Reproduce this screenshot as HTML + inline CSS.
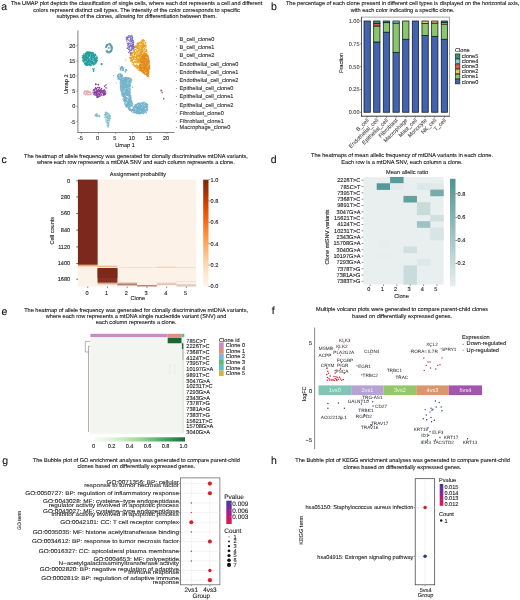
<!DOCTYPE html>
<html><head><meta charset="utf-8"><style>
html,body{margin:0;padding:0;background:#fff;}
svg{display:block;will-change:transform;}
text{font-family:"Liberation Sans", sans-serif;text-rendering:geometricPrecision;}
</style></head><body>
<svg width="520" height="600" viewBox="0 0 520 600">
<g>
<rect width="520" height="600" fill="#fff"/>
<text stroke="#111" stroke-width="0.1" x="1.30" y="9.80" font-size="10.5" fill="#111">a</text>
<text stroke="#111" stroke-width="0.1" x="271.00" y="9.60" font-size="10.5" fill="#111">b</text>
<text stroke="#111" stroke-width="0.1" x="1.50" y="162.60" font-size="10.5" fill="#111">c</text>
<text stroke="#111" stroke-width="0.1" x="270.80" y="163.00" font-size="10.5" fill="#111">d</text>
<text stroke="#111" stroke-width="0.1" x="1.60" y="315.00" font-size="10.5" fill="#111">e</text>
<text stroke="#111" stroke-width="0.1" x="271.80" y="314.00" font-size="10.5" fill="#111">f</text>
<text stroke="#111" stroke-width="0.1" x="2.20" y="463.60" font-size="10.5" fill="#111">g</text>
<text stroke="#111" stroke-width="0.1" x="271.00" y="464.30" font-size="10.5" fill="#111">h</text>
<text stroke="#151515" stroke-width="0.1" x="136.60" y="4.90" font-size="5.6" text-anchor="middle" fill="#151515">The UMAP plot depicts the classification of single cells, where each dot represents a cell and different</text>
<text stroke="#151515" stroke-width="0.1" x="136.60" y="11.60" font-size="5.6" text-anchor="middle" fill="#151515">colors represent distinct cell types. The intensity of the color corresponds to specific</text>
<text stroke="#151515" stroke-width="0.1" x="136.60" y="18.30" font-size="5.6" text-anchor="middle" fill="#151515">subtypes of the clones, allowing for differentiation between them.</text>
<text stroke="#151515" stroke-width="0.1" x="402.60" y="4.90" font-size="5.6" text-anchor="middle" fill="#151515">The percentage of each clone present in different cell types is displayed on the horizontal axis,</text>
<text stroke="#151515" stroke-width="0.1" x="402.60" y="11.90" font-size="5.6" text-anchor="middle" fill="#151515">with each color indicating a specific clone.</text>
<text stroke="#151515" stroke-width="0.1" x="135.90" y="157.60" font-size="5.6" text-anchor="middle" fill="#151515">The heatmap of allele frequency was generated for clonally discriminative mtDNA variants,</text>
<text stroke="#151515" stroke-width="0.1" x="135.90" y="163.90" font-size="5.6" text-anchor="middle" fill="#151515">where each row represents a mtDNA SNV and each column represents a clone.</text>
<text stroke="#151515" stroke-width="0.1" x="402.00" y="157.10" font-size="5.6" text-anchor="middle" fill="#151515">The heatmaps of mean allelic frequency of mtDNA variants in each clone.</text>
<text stroke="#151515" stroke-width="0.1" x="402.00" y="163.70" font-size="5.6" text-anchor="middle" fill="#151515">Each row is a mtDNA SNV, each column a clone.</text>
<text stroke="#151515" stroke-width="0.1" x="136.10" y="311.50" font-size="5.6" text-anchor="middle" fill="#151515">The heatmap of allele frequency was generated for clonally discriminative mtDNA variants,</text>
<text stroke="#151515" stroke-width="0.1" x="136.10" y="317.90" font-size="5.6" text-anchor="middle" fill="#151515">where each row represents a mtDNA single nucleotide variant (SNV) and</text>
<text stroke="#151515" stroke-width="0.1" x="136.10" y="324.30" font-size="5.6" text-anchor="middle" fill="#151515">each column represents a clone.</text>
<text stroke="#151515" stroke-width="0.1" x="402.10" y="311.00" font-size="5.6" text-anchor="middle" fill="#151515">Multiple volcano plots were generated to compare parent-child clones</text>
<text stroke="#151515" stroke-width="0.1" x="402.10" y="318.10" font-size="5.6" text-anchor="middle" fill="#151515">based on differentially expressed genes.</text>
<text stroke="#151515" stroke-width="0.1" x="136.30" y="462.10" font-size="5.6" text-anchor="middle" fill="#151515">The Bubble plot of GO enrichment analyses was generated to compare parent-child</text>
<text stroke="#151515" stroke-width="0.1" x="136.30" y="468.45" font-size="5.6" text-anchor="middle" fill="#151515">clones based on differentially expressed genes.</text>
<text stroke="#151515" stroke-width="0.1" x="402.50" y="462.30" font-size="5.6" text-anchor="middle" fill="#151515">The Bubble plot of KEGG enrichment analyses was generated to compare parent-child</text>
<text stroke="#151515" stroke-width="0.1" x="402.50" y="468.60" font-size="5.6" text-anchor="middle" fill="#151515">clones based on differentially expressed genes.</text>
<line x1="77.90" y1="30.50" x2="77.90" y2="132.80" stroke="#4a4a4a" stroke-width="0.7"/>
<line x1="77.60" y1="132.50" x2="174.60" y2="132.50" stroke="#4a4a4a" stroke-width="0.7"/>
<line x1="76.40" y1="45.60" x2="77.90" y2="45.60" stroke="#4a4a4a" stroke-width="0.5"/>
<text stroke="#222222" stroke-width="0.1" x="75.40" y="47.55" font-size="5.6" text-anchor="end" fill="#222222">20</text>
<line x1="76.40" y1="60.80" x2="77.90" y2="60.80" stroke="#4a4a4a" stroke-width="0.5"/>
<text stroke="#222222" stroke-width="0.1" x="75.40" y="62.75" font-size="5.6" text-anchor="end" fill="#222222">15</text>
<line x1="76.40" y1="76.00" x2="77.90" y2="76.00" stroke="#4a4a4a" stroke-width="0.5"/>
<text stroke="#222222" stroke-width="0.1" x="75.40" y="77.95" font-size="5.6" text-anchor="end" fill="#222222">10</text>
<line x1="76.40" y1="91.20" x2="77.90" y2="91.20" stroke="#4a4a4a" stroke-width="0.5"/>
<text stroke="#222222" stroke-width="0.1" x="75.40" y="93.15" font-size="5.6" text-anchor="end" fill="#222222">5</text>
<line x1="76.40" y1="106.40" x2="77.90" y2="106.40" stroke="#4a4a4a" stroke-width="0.5"/>
<text stroke="#222222" stroke-width="0.1" x="75.40" y="108.35" font-size="5.6" text-anchor="end" fill="#222222">0</text>
<line x1="76.40" y1="121.60" x2="77.90" y2="121.60" stroke="#4a4a4a" stroke-width="0.5"/>
<text stroke="#222222" stroke-width="0.1" x="75.40" y="123.55" font-size="5.6" text-anchor="end" fill="#222222">-5</text>
<line x1="81.40" y1="132.50" x2="81.40" y2="134.00" stroke="#4a4a4a" stroke-width="0.5"/>
<text stroke="#222222" stroke-width="0.1" x="80.50" y="140.00" font-size="5.6" text-anchor="middle" fill="#222222">-5</text>
<line x1="98.50" y1="132.50" x2="98.50" y2="134.00" stroke="#4a4a4a" stroke-width="0.5"/>
<text stroke="#222222" stroke-width="0.1" x="97.60" y="140.00" font-size="5.6" text-anchor="middle" fill="#222222">0</text>
<line x1="115.60" y1="132.50" x2="115.60" y2="134.00" stroke="#4a4a4a" stroke-width="0.5"/>
<text stroke="#222222" stroke-width="0.1" x="114.70" y="140.00" font-size="5.6" text-anchor="middle" fill="#222222">5</text>
<line x1="132.70" y1="132.50" x2="132.70" y2="134.00" stroke="#4a4a4a" stroke-width="0.5"/>
<text stroke="#222222" stroke-width="0.1" x="131.80" y="140.00" font-size="5.6" text-anchor="middle" fill="#222222">10</text>
<line x1="149.80" y1="132.50" x2="149.80" y2="134.00" stroke="#4a4a4a" stroke-width="0.5"/>
<text stroke="#222222" stroke-width="0.1" x="148.90" y="140.00" font-size="5.6" text-anchor="middle" fill="#222222">15</text>
<line x1="166.90" y1="132.50" x2="166.90" y2="134.00" stroke="#4a4a4a" stroke-width="0.5"/>
<text stroke="#222222" stroke-width="0.1" x="166.00" y="140.00" font-size="5.6" text-anchor="middle" fill="#222222">20</text>
<text stroke="#222" stroke-width="0.1" x="125.00" y="146.60" font-size="5.6" text-anchor="middle" fill="#222">Umap 1</text>
<text stroke="#222" stroke-width="0.1" x="0" y="0" font-size="5.6" text-anchor="middle" fill="#222" transform="translate(67.5,84.3) rotate(-90)">Umap 2</text>
<path d="M128.6,82.1h0 M121.0,79.7h0 M131.7,108.3h0 M122.6,84.9h0 M137.8,113.0h0 M123.2,80.8h0 M128.2,107.9h0 M124.3,98.8h0 M120.7,84.2h0 M128.4,98.9h0 M142.8,103.3h0 M126.2,98.5h0 M134.7,110.2h0 M131.5,105.6h0 M123.5,95.2h0 M144.2,112.9h0 M130.5,102.1h0 M124.0,80.7h0 M122.8,85.8h0 M130.7,110.0h0 M135.4,110.5h0 M143.6,109.7h0 M127.3,92.3h0 M129.7,110.5h0 M124.2,85.2h0 M125.9,95.0h0 M130.0,98.2h0 M146.0,106.5h0 M145.2,107.2h0 M125.2,82.5h0 M129.1,78.2h0 M122.0,90.3h0 M126.5,89.7h0 M129.9,81.0h0 M121.5,80.2h0 M129.2,86.5h0 M144.9,103.2h0 M126.8,90.4h0 M134.9,106.4h0 M128.8,84.9h0 M144.6,107.5h0 M143.5,104.9h0 M125.7,96.3h0 M126.7,103.1h0 M125.5,85.0h0 M124.8,84.1h0 M137.7,111.1h0 M138.6,107.2h0 M146.3,106.6h0 M128.9,107.3h0 M122.7,82.1h0 M146.1,107.5h0 M129.4,97.5h0 M134.8,112.4h0 M132.0,110.0h0 M126.5,87.6h0 M126.1,99.0h0 M126.7,92.5h0 M129.5,94.0h0 M136.5,111.3h0 M124.1,94.6h0 M128.7,96.3h0 M135.6,106.6h0 M126.4,86.9h0 M135.8,105.7h0 M139.9,110.2h0 M135.7,112.8h0 M122.6,93.4h0 M121.1,85.5h0 M142.5,111.0h0 M123.8,92.9h0 M124.8,88.6h0 M122.1,86.5h0 M127.0,81.2h0 M131.6,111.6h0 M121.6,78.4h0 M138.0,107.3h0 M135.5,112.2h0 M127.0,81.2h0 M122.2,82.5h0 M120.4,84.0h0 M128.3,88.0h0 M124.6,94.6h0 M133.8,108.6h0 M130.7,95.9h0 M129.2,108.5h0 M120.5,81.2h0 M126.6,82.5h0 M127.4,85.6h0 M127.7,94.0h0 M123.6,93.5h0 M128.2,90.0h0 M124.9,95.8h0 M121.6,91.7h0 M128.1,85.2h0 M140.5,110.3h0 M141.0,107.7h0 M123.1,96.5h0 M134.1,108.6h0 M143.1,108.3h0 M136.5,110.8h0 M139.5,103.1h0 M125.8,77.4h0 M122.9,90.2h0 M142.9,105.2h0 M121.1,86.5h0 M123.3,86.1h0 M120.7,86.6h0 M139.1,103.1h0 M125.2,98.8h0 M123.2,96.5h0 M145.6,103.5h0 M123.1,89.5h0 M128.4,108.8h0 M146.8,103.9h0 M130.1,91.4h0 M129.8,92.8h0 M127.2,78.1h0 M126.4,86.5h0 M145.5,107.7h0 M137.9,111.6h0 M127.5,78.1h0 M127.9,104.9h0 M123.9,82.5h0 M124.7,79.7h0 M129.2,79.7h0 M126.1,86.2h0 M136.0,110.6h0 M130.2,89.3h0 M120.8,87.0h0 M127.1,85.8h0 M147.6,109.1h0 M143.8,109.4h0 M122.2,82.2h0 M147.2,104.2h0 M138.4,105.9h0 M122.8,86.0h0 M138.1,103.3h0 M122.3,78.9h0 M130.6,84.9h0 M128.0,94.1h0 M126.0,85.8h0 M139.0,112.1h0 M125.7,77.5h0 M129.1,92.5h0 M142.9,104.9h0 M125.6,105.7h0 M125.6,92.4h0 M138.9,113.0h0 M123.3,91.5h0 M123.2,78.2h0 M145.9,110.5h0 M130.2,89.1h0 M127.3,89.8h0 M129.6,108.1h0 M124.7,90.3h0 M131.3,107.7h0 M141.4,111.1h0 M129.1,86.8h0 M126.8,104.0h0 M128.4,86.9h0 M125.9,94.6h0 M143.1,104.9h0 M143.7,106.2h0 M128.5,90.2h0 M126.3,78.7h0 M126.9,79.5h0 M125.9,92.4h0 M141.4,109.1h0 M126.3,85.7h0 M133.2,108.0h0 M144.2,111.7h0 M122.5,83.6h0 M126.7,106.4h0 M125.5,90.5h0 M123.2,84.1h0 M126.6,99.5h0 M128.3,84.1h0 M120.8,80.1h0 M130.8,97.5h0 M128.3,98.2h0 M129.7,92.4h0 M129.8,83.9h0 M131.7,108.0h0 M131.1,110.5h0 M138.2,111.5h0 M130.1,95.8h0 M123.3,87.2h0 M134.6,112.1h0 M122.2,95.2h0 M143.1,113.7h0 M124.8,81.1h0 M131.1,109.0h0 M125.5,91.7h0 M122.6,85.8h0 M140.7,111.0h0 M131.7,101.8h0 M141.9,106.5h0 M122.8,92.9h0 M121.7,93.3h0 M141.0,106.4h0 M140.9,107.8h0 M142.6,112.3h0 M120.9,89.8h0 M134.0,111.9h0 M125.2,86.4h0 M139.4,110.9h0 M136.4,110.4h0 M129.7,105.9h0 M134.3,110.9h0 M122.9,85.0h0 M122.1,90.1h0 M125.7,98.8h0 M126.2,82.0h0 M145.1,106.5h0 M147.1,104.7h0 M124.9,99.8h0 M128.2,87.9h0 M142.5,104.0h0 M125.7,80.3h0 M125.9,77.7h0 M129.0,105.3h0 M139.8,109.0h0 M126.9,101.1h0 M126.7,85.4h0 M141.3,112.9h0 M133.0,108.8h0 M139.9,109.5h0 M132.1,104.3h0 M125.3,100.4h0 M129.3,81.7h0 M139.9,104.8h0 M129.8,107.9h0 M143.6,110.8h0 M146.4,112.8h0 M122.1,84.2h0 M144.4,107.7h0 M138.0,108.2h0 M121.9,80.0h0 M128.5,92.6h0 M127.4,104.0h0 M130.0,88.6h0 M132.0,106.2h0 M129.3,103.5h0 M133.7,107.1h0 M124.5,95.4h0 M129.4,108.5h0 M127.4,84.5h0 M139.9,106.7h0 M125.1,86.4h0 M130.3,110.5h0 M125.9,94.1h0 M134.9,105.5h0 M129.4,88.9h0 M138.8,105.0h0 M124.0,93.2h0 M122.7,94.1h0 M124.7,87.9h0 M140.1,108.9h0 M123.6,82.3h0 M126.4,88.9h0 M128.8,83.5h0 M122.0,91.1h0 M124.8,101.0h0 M122.1,84.2h0 M130.9,106.9h0 M131.1,104.9h0 M136.2,105.3h0 M140.6,110.3h0 M142.2,103.4h0 M144.6,102.6h0 M128.3,100.6h0 M121.8,92.5h0 M142.4,103.9h0 M139.2,112.3h0 M124.4,101.6h0 M125.2,102.8h0 M130.7,105.8h0 M129.6,78.4h0 M127.2,91.7h0 M131.6,103.3h0 M129.5,86.5h0 M125.7,105.0h0 M129.5,101.0h0 M143.5,107.9h0 M130.2,86.0h0 M127.4,85.7h0 M128.0,94.8h0 M131.8,100.9h0 M146.9,109.4h0 M146.2,106.6h0 M122.0,81.7h0 M125.9,106.3h0 M129.3,82.1h0 M146.1,106.9h0 M137.2,106.5h0 M139.0,110.9h0 M142.6,108.7h0 M124.8,103.1h0 M134.9,105.0h0 M132.1,110.4h0 M125.9,81.6h0 M135.1,109.7h0 M138.9,108.8h0 M130.2,92.5h0 M139.4,112.3h0 M129.1,109.6h0 M129.9,94.6h0 M134.7,106.1h0 M125.2,93.1h0 M138.6,106.9h0 M128.9,88.5h0 M127.9,99.0h0 M138.0,106.6h0 M120.4,87.9h0 M138.7,106.8h0 M124.4,77.6h0 M142.2,111.7h0 M143.7,106.7h0 M128.0,92.6h0 M128.5,92.9h0 M138.2,112.4h0 M136.7,112.6h0 M131.3,80.2h0 M140.4,109.4h0 M137.8,103.7h0 M132.8,112.4h0 M128.3,104.5h0 M130.0,98.5h0 M132.1,102.5h0 M129.8,101.2h0 M130.5,106.7h0 M147.3,106.6h0 M140.1,108.3h0 M128.9,99.7h0 M131.8,110.7h0 M130.2,102.8h0 M137.0,111.0h0 M143.5,110.6h0 M143.3,109.8h0 M144.5,107.5h0 M139.5,111.7h0 M129.3,79.5h0 M135.6,107.1h0 M126.6,105.3h0 M136.3,111.0h0 M124.6,83.7h0 M129.8,98.1h0 M131.0,96.3h0 M123.4,77.9h0 M147.4,106.0h0 M143.5,113.6h0 M126.5,77.7h0 M124.9,83.2h0 M135.7,110.0h0 M126.6,98.1h0 M138.2,113.3h0 M125.6,77.7h0 M126.6,89.9h0 M146.1,111.3h0 M142.6,103.7h0 M120.6,81.8h0 M141.6,112.6h0 M136.7,105.6h0 M122.1,88.8h0 M126.6,81.0h0 M126.1,81.8h0 M145.0,110.7h0 M123.1,93.6h0 M125.6,78.4h0 M126.9,92.2h0 M123.6,86.7h0 M124.0,95.3h0 M126.7,84.0h0 M121.8,87.4h0 M124.5,93.1h0 M121.3,79.6h0 M127.1,84.2h0 M137.3,103.7h0 M125.0,78.7h0 M144.2,109.7h0 M129.9,82.5h0 M130.1,99.3h0 M143.5,109.8h0 M128.6,103.8h0 M130.4,105.4h0 M124.4,80.2h0 M145.1,104.0h0 M120.3,81.0h0 M127.3,80.9h0 M131.1,81.5h0 M136.7,109.6h0 M123.3,98.4h0 M143.8,112.6h0 M126.1,89.2h0 M143.1,111.6h0 M143.4,109.1h0 M126.4,92.6h0 M143.3,110.5h0 M135.2,112.1h0 M128.1,101.3h0 M127.0,94.3h0 M122.6,81.3h0 M127.7,92.0h0 M127.6,85.6h0 M125.0,103.8h0 M128.2,85.6h0 M125.6,96.1h0 M130.4,98.9h0 M127.8,106.2h0 M123.7,78.8h0 M132.1,104.7h0 M122.2,84.9h0 M147.8,104.9h0 M123.6,89.3h0 M129.5,102.4h0 M137.5,109.2h0 M141.1,105.0h0 M142.5,103.7h0 M142.5,110.1h0 M130.7,97.7h0 M142.6,109.2h0 M124.4,88.0h0 M123.3,98.5h0 M144.3,108.7h0 M131.7,111.5h0 M146.6,106.2h0 M129.7,99.3h0 M121.9,90.7h0 M131.0,98.0h0 M136.2,110.3h0 M134.9,107.9h0 M124.0,88.5h0 M145.8,103.0h0 M123.6,87.4h0 M124.6,83.3h0 M131.3,106.8h0 M128.1,103.0h0 M126.9,101.3h0 M122.6,82.3h0 M121.9,82.8h0 M134.6,108.1h0 M137.4,107.5h0 M124.0,86.5h0 M136.4,113.4h0 M126.4,77.9h0 M146.9,109.4h0 M137.0,113.4h0 M126.2,91.3h0 M133.5,107.0h0 M126.2,82.9h0 M129.7,83.4h0 M131.0,78.7h0 M129.5,85.7h0 M124.7,87.2h0 M126.0,77.6h0 M121.7,86.7h0 M132.2,108.6h0 M129.5,104.2h0 M130.0,85.8h0 M127.0,106.1h0 M130.5,101.7h0 M130.6,79.5h0 M128.6,101.9h0 M129.8,95.6h0 M127.8,78.8h0 M128.3,85.0h0 M127.4,91.9h0 M146.3,106.3h0 M145.5,109.6h0 M122.9,86.9h0 M131.3,101.8h0 M141.0,103.8h0 M123.8,83.9h0 M128.0,91.0h0 M132.0,102.8h0 M144.0,106.3h0 M127.5,77.9h0 M120.3,85.7h0 M141.4,108.4h0 M127.4,79.7h0 M141.1,108.4h0 M140.1,107.5h0 M126.8,97.4h0 M120.7,90.1h0 M128.2,81.5h0 M126.1,85.6h0 M123.2,98.1h0 M128.9,107.8h0 M135.4,105.7h0 M142.0,108.4h0 M122.3,87.4h0 M129.8,84.2h0 M120.7,87.1h0 M124.8,103.4h0 M128.7,94.4h0 M129.8,82.7h0 M122.2,95.2h0 M137.8,112.5h0 M126.3,81.6h0 M124.5,101.0h0 M144.4,112.2h0 M143.9,105.0h0 M128.7,83.4h0 M130.0,97.6h0 M130.0,108.5h0 M126.1,77.8h0 M143.6,103.6h0 M146.1,112.9h0 M123.6,87.8h0 M144.2,109.4h0 M127.4,101.9h0 M129.1,93.2h0 M138.9,108.3h0 M127.8,93.4h0 M124.8,79.5h0 M128.6,94.1h0 M127.8,98.4h0 M130.1,98.7h0 M122.3,83.2h0 M126.5,79.9h0 M125.7,98.4h0 M122.3,96.1h0 M131.2,79.1h0 M132.1,109.7h0 M130.7,82.8h0 M126.0,90.6h0 M125.3,87.8h0 M146.5,110.0h0 M129.2,105.8h0 M139.4,108.2h0 M122.6,90.7h0 M141.1,113.0h0 M135.4,107.4h0 M124.7,93.5h0 M124.5,97.7h0 M127.6,102.9h0 M130.4,81.8h0 M139.7,107.6h0 M129.2,82.1h0 M134.0,110.1h0 M121.2,89.0h0 M124.0,90.2h0 M120.3,81.9h0 M127.1,95.6h0 M126.8,98.3h0 M135.8,106.1h0 M145.2,106.2h0 M129.8,87.1h0 M142.8,110.1h0 M128.1,105.8h0 M120.7,89.3h0 M126.2,85.3h0 M129.4,81.5h0 M124.0,78.8h0 M128.0,88.2h0 M121.3,83.1h0 M129.6,106.2h0 M131.8,109.9h0 M123.9,86.6h0 M137.0,109.7h0 M141.0,113.6h0 M143.3,110.2h0 M129.2,81.5h0 M124.6,97.0h0 M128.7,105.3h0 M129.0,95.4h0 M137.4,104.3h0 M128.8,79.8h0 M123.6,81.7h0 M140.3,105.8h0 M134.7,112.7h0 M123.4,83.1h0 M141.1,112.0h0 M131.0,109.7h0 M125.6,86.0h0 M126.8,93.0h0 M125.9,84.1h0 M125.4,98.3h0 M141.5,108.1h0 M127.4,89.1h0 M133.5,110.8h0 M136.3,110.5h0 M129.7,106.5h0 M121.8,82.7h0 M140.5,110.4h0 M131.9,80.3h0 M122.5,95.1h0 M123.0,92.8h0 M129.5,95.5h0 M145.5,104.6h0 M127.1,83.1h0 M126.9,78.9h0 M131.2,97.8h0 M145.2,104.0h0 M131.2,81.8h0 M137.2,112.1h0 M126.6,99.9h0 M130.2,85.5h0 M124.9,80.7h0 M144.3,106.6h0 M126.0,100.6h0 M125.6,100.0h0 M125.6,81.7h0 M143.8,110.9h0 M130.4,108.5h0 M123.5,86.0h0 M122.0,90.0h0 M133.3,107.2h0 M130.1,89.4h0 M124.9,98.3h0 M120.6,83.1h0 M128.7,85.6h0 M138.0,109.5h0 M125.0,92.6h0 M130.1,77.9h0 M131.2,101.3h0 M130.5,98.7h0 M130.1,102.0h0 M128.8,78.9h0 M146.0,105.6h0 M133.2,110.7h0 M134.3,108.2h0 M139.1,104.9h0 M142.1,106.1h0 M122.5,84.8h0 M122.0,79.6h0 M129.0,96.3h0 M127.2,86.4h0 M128.3,86.1h0 M120.4,88.0h0 M145.0,107.3h0 M125.0,78.2h0 M120.4,88.4h0 M127.1,107.1h0 M127.7,103.8h0 M132.3,110.3h0 M127.8,84.4h0 M121.9,79.9h0 M142.5,113.1h0 M131.4,101.8h0 M127.7,85.2h0 M130.3,101.1h0 M125.6,97.4h0 M121.7,94.2h0 M127.7,89.7h0 M133.5,109.7h0 M121.6,81.6h0 M136.9,113.7h0 M128.9,93.6h0 M126.3,105.0h0 M127.9,78.9h0 M135.5,106.8h0 M129.5,90.7h0 M128.9,108.9h0 M123.4,79.8h0 M122.4,94.4h0 M123.8,97.0h0 M124.9,91.9h0 M125.0,81.1h0 M134.0,110.8h0 M133.6,106.9h0 M125.8,105.3h0 M123.5,86.4h0 M136.8,106.6h0 M126.3,99.4h0 M131.2,79.6h0 M126.3,104.7h0 M129.3,81.6h0 M124.9,84.7h0 M142.4,111.4h0 M124.9,100.5h0 M144.4,106.7h0 M129.4,82.5h0 M143.8,112.6h0 M146.1,105.1h0 M144.0,107.3h0 M143.7,106.6h0 M125.9,83.9h0 M133.7,111.4h0 M139.5,103.8h0 M130.7,106.6h0 M142.8,102.7h0 M147.2,108.2h0 M131.1,79.6h0 M138.5,108.6h0 M129.1,99.3h0 M144.1,107.0h0 M129.0,84.5h0 M129.5,109.0h0 M121.5,86.7h0 M138.8,107.5h0 M124.4,86.7h0 M137.3,110.9h0 M130.8,95.6h0 M132.6,107.6h0 M126.4,89.9h0 M129.8,101.9h0 M132.4,105.3h0 M145.7,104.5h0 M128.7,81.5h0 M147.6,110.8h0 M123.3,99.0h0 M130.7,105.2h0 M143.1,102.4h0 M140.3,103.0h0 M127.3,82.5h0 M136.2,108.2h0 M123.1,96.2h0 M128.3,78.3h0 M127.9,91.1h0 M124.5,88.2h0 M128.6,93.2h0 M122.2,86.3h0 M132.5,108.7h0 M138.1,106.4h0 M128.4,82.1h0 M126.9,85.6h0 M141.6,102.5h0 M131.3,107.5h0 M122.2,88.1h0 M138.3,113.7h0 M147.2,105.0h0 M129.2,91.4h0 M139.0,111.2h0 M122.9,89.3h0 M134.0,109.3h0 M131.1,98.5h0 M142.6,108.7h0 M145.9,111.1h0 M141.3,108.1h0 M138.4,110.3h0 M127.2,78.8h0 M137.1,108.2h0 M127.1,84.5h0 M125.6,79.8h0 M123.1,86.9h0 M135.6,107.5h0 M122.2,84.9h0 M128.9,98.3h0 M137.9,104.3h0 M129.2,83.6h0 M124.9,103.5h0 M124.8,86.5h0 M140.6,104.1h0 M120.8,84.2h0 M126.8,90.0h0 M123.8,100.7h0 M120.2,83.0h0 M122.0,80.3h0 M146.3,107.0h0 M133.2,108.1h0 M122.8,80.4h0 M125.2,86.0h0 M140.3,112.9h0 M143.3,108.8h0 M125.3,98.9h0 M143.9,106.7h0 M121.0,88.7h0 M137.7,110.6h0 M125.1,85.6h0 M122.7,84.0h0 M138.1,103.6h0 M139.2,103.9h0 M126.1,101.4h0 M125.8,91.4h0 M142.6,108.2h0 M138.0,105.0h0 M125.5,102.3h0 M123.8,96.1h0 M145.7,111.8h0 M135.6,108.1h0 M136.8,107.2h0 M143.9,107.7h0 M129.5,79.8h0 M140.9,109.2h0 M130.0,87.9h0 M121.2,80.6h0 M131.2,99.9h0 M138.4,111.8h0 M141.0,107.1h0 M146.4,108.7h0 M139.4,109.2h0 M131.9,110.3h0 M132.2,103.6h0 M126.5,87.9h0 M129.4,88.8h0 M121.8,93.4h0 M147.0,105.8h0 M126.4,92.2h0 M145.6,111.9h0 M128.8,106.1h0 M142.2,110.7h0 M128.3,100.5h0 M130.0,97.0h0 M135.1,112.6h0 M139.7,113.7h0 M121.6,84.4h0 M124.2,93.2h0 M139.6,103.0h0 M141.4,105.4h0 M126.4,86.2h0 M125.2,86.3h0 M128.0,78.7h0 M129.8,81.7h0 M122.3,95.4h0 M127.1,106.1h0 M124.3,80.1h0 M128.0,92.1h0 M144.6,107.4h0 M123.2,80.0h0 M125.6,78.7h0 M129.8,104.2h0 M126.5,90.4h0 M126.4,107.1h0 M127.5,91.0h0 M124.7,84.7h0 M138.9,108.7h0 M126.0,77.3h0 M132.7,103.8h0 M121.7,80.8h0 M125.8,93.3h0 M122.5,78.8h0 M129.8,94.4h0 M121.1,84.8h0 M126.1,82.8h0 M121.4,86.5h0 M125.1,101.9h0 M129.8,80.8h0 M125.9,95.6h0 M147.4,104.9h0 M125.7,99.4h0 M125.4,77.6h0 M136.5,112.7h0 M131.0,102.5h0 M125.9,94.7h0 M134.3,113.0h0 M128.6,92.0h0 M129.2,102.1h0 M126.7,93.8h0 M123.0,85.5h0 M123.4,81.5h0 M126.0,82.7h0 M131.2,110.7h0 M138.8,109.6h0 M127.6,87.4h0 M144.4,107.5h0 M122.4,85.7h0 M143.0,111.1h0 M126.0,90.4h0 M139.1,107.2h0 M139.3,103.7h0 M147.8,106.7h0 M125.9,92.9h0 M138.9,106.0h0 M122.7,84.8h0 M125.4,86.5h0 M129.6,103.5h0 M142.0,108.6h0 M140.1,113.7h0 M128.0,86.1h0 M144.5,110.2h0 M126.9,103.8h0 M129.0,96.5h0 M128.5,92.4h0 M123.8,79.7h0 M126.8,106.9h0 M120.4,82.2h0 M142.9,107.3h0 M124.7,103.7h0 M143.1,106.9h0 M125.9,79.8h0 M123.1,83.7h0 M126.7,92.6h0 M125.6,87.5h0 M137.4,111.2h0 M125.1,88.3h0 M123.6,85.0h0 M142.1,108.3h0 M140.5,113.4h0 M128.4,104.2h0 M146.9,110.2h0 M122.5,95.9h0 M121.0,91.2h0 M128.5,94.7h0 M140.3,106.1h0 M130.1,93.5h0 M127.3,77.7h0 M122.8,94.3h0 M121.5,91.5h0 M120.4,87.4h0 M122.1,78.9h0 M123.8,96.8h0 M122.6,85.6h0 M126.7,104.9h0 M145.7,111.3h0 M132.9,104.0h0 M129.1,85.8h0 M126.6,94.4h0 M129.2,83.5h0 M131.5,108.1h0 M137.2,111.1h0 M144.4,108.0h0 M126.9,90.4h0 M130.2,89.9h0 M130.3,80.5h0 M131.3,100.9h0 M145.6,105.5h0 M140.8,105.5h0 M144.3,109.1h0 M147.1,105.1h0 M129.1,106.6h0 M142.4,110.0h0 M125.3,89.4h0 M126.4,80.1h0 M143.1,113.2h0 M128.2,100.7h0 M146.0,104.7h0 M136.6,108.4h0 M131.4,110.4h0 M129.8,90.3h0 M131.9,104.0h0 M131.8,79.8h0 M134.7,108.0h0 M125.6,105.1h0 M140.3,112.3h0 M125.0,87.9h0 M128.8,104.6h0 M124.5,97.4h0 M141.8,109.9h0 M134.0,111.1h0 M134.3,112.4h0 M137.9,107.4h0 M126.7,86.9h0 M140.5,105.2h0 M126.0,86.1h0 M137.0,111.3h0 M125.0,98.9h0 M140.6,105.3h0 M140.3,103.8h0 M121.5,78.9h0 M142.9,102.5h0 M123.2,94.0h0 M129.0,105.9h0 M126.3,83.9h0 M123.8,92.1h0 M123.8,84.7h0 M121.5,83.7h0 M128.4,95.8h0 M124.4,94.8h0 M124.0,79.0h0 M140.0,113.7h0 M144.5,104.5h0 M129.6,100.6h0 M141.0,113.0h0 M123.3,90.4h0 M144.5,106.9h0 M124.4,80.7h0 M145.9,107.3h0 M129.4,96.8h0 M130.6,99.8h0 M130.1,91.2h0 M128.9,108.1h0 M123.3,85.0h0 M120.6,86.4h0 M141.0,104.1h0 M146.3,112.9h0 M135.5,112.0h0 M141.4,109.5h0 M130.5,79.8h0 M145.2,105.4h0 M122.3,82.5h0 M124.3,99.8h0 M139.1,113.8h0 M126.5,85.2h0 M124.3,82.1h0 M129.5,104.8h0 M132.1,106.9h0 M129.0,91.6h0 M147.3,109.5h0 M123.2,83.0h0 M130.4,103.0h0 M131.4,102.2h0 M136.1,104.5h0 M130.2,86.6h0 M146.1,106.9h0 M142.6,108.1h0 M128.5,105.6h0 M126.8,99.9h0 M146.9,105.6h0 M136.2,111.4h0 M127.2,80.6h0 M143.2,105.6h0 M132.6,109.7h0 M140.5,104.5h0 M124.5,81.5h0 M124.5,95.6h0 M129.0,82.6h0 M143.1,102.7h0 M132.8,108.1h0 M123.9,81.5h0 M127.0,90.5h0 M135.6,105.8h0 M123.1,98.8h0 M122.6,87.2h0 M129.7,99.7h0 M144.1,102.2h0 M139.5,112.2h0 M131.4,111.2h0 M136.6,108.2h0 M127.0,81.9h0 M129.9,101.9h0 M126.6,81.7h0 M123.7,82.0h0 M136.6,107.3h0 M123.7,95.7h0 M139.1,108.6h0 M124.3,78.9h0 M121.4,89.1h0 M134.3,112.5h0 M126.3,82.2h0 M128.1,88.8h0 M146.3,103.6h0 M120.3,80.9h0 M123.6,100.5h0 M129.0,80.2h0 M141.2,104.0h0 M125.6,91.7h0 M124.9,79.6h0 M129.0,86.5h0 M131.0,102.9h0 M147.0,107.8h0 M139.5,103.3h0 M128.6,78.3h0 M136.4,104.3h0 M129.4,103.2h0 M129.9,103.8h0 M130.4,102.3h0 M129.5,110.1h0 M146.3,106.7h0 M124.8,96.3h0 M130.1,96.0h0 M127.3,95.7h0 M142.1,103.5h0 M127.6,91.8h0 M140.2,108.0h0 M125.3,93.7h0 M129.7,88.1h0 M129.7,105.5h0 M127.1,78.6h0 M139.1,113.7h0 M129.0,80.4h0 M142.8,104.8h0 M127.0,95.1h0 M140.3,110.9h0 M144.5,109.9h0 M124.4,82.3h0 M144.5,110.8h0 M130.1,105.7h0 M128.9,102.6h0 M128.6,77.6h0 M128.7,101.2h0 M122.6,84.5h0 M128.3,92.4h0 M126.2,99.0h0 M142.9,107.6h0 M127.0,106.3h0 M125.8,100.4h0 M142.3,108.9h0 M126.7,105.4h0 M121.6,94.1h0 M121.7,79.7h0 M130.0,93.0h0 M130.1,109.6h0 M129.7,89.2h0 M127.4,79.5h0 M128.8,109.0h0 M129.1,92.4h0 M131.0,82.5h0 M132.7,108.5h0 M130.2,104.7h0 M124.1,101.2h0 M123.0,88.2h0 M137.5,106.5h0 M132.2,108.4h0 M136.0,105.4h0 M129.9,93.6h0 M132.1,108.4h0 M123.7,87.6h0 M146.2,110.0h0 M146.8,107.7h0 M127.4,105.1h0 M125.6,84.6h0 M141.3,110.2h0 M129.6,84.3h0 M129.4,104.6h0 M134.2,106.7h0 M124.9,104.2h0 M129.5,107.7h0 M121.7,86.9h0 M130.2,98.7h0 M125.5,93.2h0 M144.9,106.7h0 M139.3,107.8h0 M132.0,102.3h0 M121.9,92.2h0 M130.6,82.0h0 M124.4,98.6h0 M124.6,94.6h0 M134.1,108.7h0 M124.9,77.7h0 M130.1,94.8h0 M135.5,104.6h0 M126.4,79.5h0 M126.5,79.5h0 M127.9,94.1h0 M130.1,106.8h0 M128.8,80.4h0 M139.9,106.5h0 M132.1,106.0h0 M124.3,92.0h0 M126.3,97.8h0 M130.0,110.4h0 M122.8,87.8h0" stroke="#74b3cc" stroke-width="1.20" stroke-linecap="round" fill="none"/>
<path d="M119.6,79.5h0 M118.7,75.1h0 M120.0,78.9h0 M121.4,75.8h0 M120.3,75.5h0 M122.2,74.9h0 M122.3,77.0h0 M120.3,77.1h0 M119.2,77.2h0 M121.2,78.0h0 M122.2,78.4h0 M120.1,79.1h0 M117.3,76.9h0 M119.1,76.5h0 M122.0,78.3h0 M118.4,78.8h0 M119.8,79.4h0 M121.3,76.3h0 M120.4,79.4h0 M121.5,76.6h0 M118.7,78.6h0 M122.4,75.6h0 M118.5,74.5h0 M120.3,76.2h0 M118.4,77.6h0 M120.1,74.9h0 M121.2,77.2h0 M120.6,74.9h0 M121.7,78.4h0 M121.5,76.4h0 M119.6,74.8h0 M120.8,73.9h0 M119.8,73.8h0 M118.2,78.8h0 M118.8,77.6h0 M118.6,74.9h0 M120.6,79.6h0 M120.4,75.4h0 M118.1,79.6h0 M118.9,77.4h0 M117.9,78.6h0 M121.4,75.3h0 M119.6,79.4h0 M120.1,74.7h0 M121.6,78.2h0 M122.5,75.9h0 M120.3,79.8h0 M120.5,73.5h0 M117.5,75.9h0 M120.6,76.1h0 M118.0,79.5h0 M121.8,77.6h0 M119.4,74.3h0 M117.8,76.2h0 M118.5,76.5h0 M117.3,75.8h0 M121.4,75.1h0 M121.2,75.5h0 M121.9,76.5h0 M119.7,78.4h0 M120.7,76.0h0 M117.5,76.4h0 M118.6,74.2h0 M120.9,78.8h0 M118.0,78.4h0 M121.1,80.0h0 M117.6,75.3h0 M118.4,76.5h0 M121.8,77.9h0 M120.9,74.0h0 M122.6,75.9h0 M120.8,77.1h0 M118.1,79.2h0" stroke="#74b3cc" stroke-width="1.20" stroke-linecap="round" fill="none"/>
<path d="M121.0,68.1h0 M123.5,70.2h0 M122.5,68.1h0 M123.3,70.4h0 M122.7,66.7h0 M122.7,66.8h0 M122.4,68.0h0 M120.5,68.8h0 M122.2,68.6h0 M122.9,69.4h0 M123.8,67.8h0 M121.3,66.7h0 M120.4,67.5h0 M121.5,67.8h0 M121.7,66.7h0 M120.9,69.6h0 M123.1,69.7h0 M122.7,67.9h0 M122.5,70.0h0 M120.3,67.9h0 M120.6,69.7h0 M122.9,68.9h0 M120.2,69.0h0 M120.3,69.4h0 M122.6,69.0h0 M121.4,68.2h0 M122.2,70.3h0 M120.2,69.2h0 M121.6,66.8h0 M123.3,68.7h0 M121.5,70.2h0 M120.5,70.0h0 M121.7,67.7h0 M122.2,67.4h0" stroke="#74b3cc" stroke-width="1.20" stroke-linecap="round" fill="none"/>
<path d="M127.0,70.0h0 M126.5,69.5h0 M125.3,72.2h0 M125.6,69.4h0 M125.6,70.5h0 M125.8,71.2h0 M125.8,71.1h0 M125.5,70.5h0 M125.9,69.6h0 M125.5,69.4h0 M125.5,70.7h0 M125.0,71.8h0 M126.2,70.4h0" stroke="#74b3cc" stroke-width="1.20" stroke-linecap="round" fill="none"/>
<circle cx="132.50" cy="87.20" r="0.70" fill="#74b3cc"/>
<circle cx="131.60" cy="107.70" r="1.20" fill="#ffffff"/>
<path d="M133.1,44.8h0 M126.3,38.9h0 M131.6,53.6h0 M131.4,48.0h0 M133.2,45.8h0 M126.2,39.1h0 M131.9,35.8h0 M133.4,46.5h0 M131.2,39.4h0 M131.0,53.5h0 M128.9,43.9h0 M131.8,38.1h0 M131.2,41.3h0 M130.0,50.3h0 M128.3,47.7h0 M133.7,44.7h0 M131.7,40.6h0 M127.7,45.6h0 M130.6,39.1h0 M133.1,45.4h0 M128.8,39.8h0 M132.2,41.7h0 M129.7,49.6h0 M133.3,49.5h0 M131.2,36.4h0 M127.3,39.8h0 M131.1,55.1h0 M130.9,54.9h0 M130.0,45.8h0 M128.0,44.6h0 M127.1,48.2h0 M130.4,44.8h0 M132.4,47.6h0 M131.9,45.4h0 M133.9,47.7h0 M131.8,52.4h0 M133.6,41.8h0 M131.1,38.1h0 M128.5,37.4h0 M132.0,48.7h0 M130.8,55.3h0 M130.2,35.9h0 M132.5,37.9h0 M128.5,49.1h0 M132.5,44.5h0 M127.9,43.6h0 M132.6,39.2h0 M132.0,35.5h0 M128.2,36.0h0 M130.2,53.8h0 M132.5,48.2h0 M130.1,49.2h0 M130.5,38.2h0 M132.4,36.9h0 M131.0,45.7h0 M132.5,45.2h0 M129.1,46.6h0 M131.9,47.8h0 M132.9,40.1h0 M133.8,46.4h0 M127.7,43.4h0 M128.8,35.8h0 M130.2,46.4h0 M128.8,49.6h0 M130.7,45.3h0 M127.7,39.1h0 M132.1,41.8h0 M130.5,36.4h0 M128.8,35.7h0 M133.1,42.3h0 M129.1,43.7h0 M131.5,46.0h0 M133.3,48.8h0 M131.9,35.7h0 M128.9,44.8h0 M131.7,35.4h0 M130.9,50.8h0 M132.6,46.5h0 M131.7,49.3h0 M126.9,41.7h0 M133.3,40.6h0 M128.8,42.9h0 M134.1,46.2h0 M131.7,44.0h0 M127.9,46.0h0 M130.1,37.2h0 M133.5,43.9h0 M126.5,39.9h0 M129.5,51.2h0 M129.6,43.5h0 M129.3,45.9h0 M127.0,37.0h0 M130.8,42.0h0 M132.2,42.3h0 M129.6,41.2h0 M130.7,40.4h0 M132.1,43.4h0 M132.5,40.6h0 M129.8,46.7h0 M132.6,48.9h0 M129.5,36.0h0 M126.2,37.3h0 M126.9,38.2h0 M132.0,41.8h0 M127.6,38.2h0 M131.1,39.7h0 M133.6,49.4h0 M129.5,47.9h0 M132.0,44.1h0 M131.8,36.0h0 M129.0,42.5h0 M130.4,39.8h0 M127.2,36.9h0 M132.3,45.6h0 M134.3,48.0h0 M131.6,43.9h0 M129.5,37.3h0 M130.8,40.3h0 M131.1,54.0h0 M128.1,47.2h0 M130.9,41.4h0 M130.5,52.7h0 M127.2,38.2h0 M127.5,48.5h0 M132.5,45.3h0 M130.9,43.6h0 M134.4,47.2h0 M128.7,40.5h0 M133.9,42.6h0 M131.4,46.6h0 M132.8,37.7h0 M131.9,48.0h0 M127.3,43.3h0 M131.5,50.2h0 M132.2,43.1h0 M133.1,47.7h0 M128.6,52.7h0 M132.2,53.1h0 M133.5,44.4h0 M129.2,52.1h0 M131.9,46.3h0 M127.4,37.1h0 M133.0,49.4h0" stroke="#7a6cc2" stroke-width="1.20" stroke-linecap="round" fill="none"/>
<path d="M135.9,57.4h0 M139.2,68.3h0 M130.2,58.7h0 M134.4,61.9h0 M144.9,49.1h0 M149.3,63.5h0 M131.1,59.1h0 M139.6,65.1h0 M142.4,41.2h0 M146.8,73.7h0 M135.4,66.8h0 M147.7,73.6h0 M143.8,56.9h0 M148.6,70.4h0 M141.3,67.7h0 M143.5,54.3h0 M139.7,58.6h0 M147.3,72.1h0 M144.1,65.8h0 M139.9,61.2h0 M133.2,57.0h0 M146.3,70.2h0 M140.7,65.5h0 M135.7,59.4h0 M146.1,61.5h0 M143.9,51.9h0 M145.0,60.8h0 M146.2,50.9h0 M142.3,53.8h0 M138.0,50.9h0 M143.9,45.6h0 M146.0,69.4h0 M143.5,40.8h0 M139.2,49.1h0 M142.1,54.2h0 M138.7,59.8h0 M134.9,49.3h0 M147.5,75.1h0 M131.4,52.7h0 M148.7,72.9h0 M134.1,58.4h0 M139.1,65.6h0 M146.4,73.5h0 M147.3,64.3h0 M148.9,68.5h0 M142.9,44.1h0 M143.4,65.2h0 M133.7,57.4h0 M142.6,65.9h0 M142.4,40.7h0 M148.3,69.5h0 M140.0,61.9h0 M139.5,68.5h0 M140.4,49.4h0 M140.1,46.8h0 M147.9,67.1h0 M133.2,58.6h0 M141.6,61.5h0 M138.8,58.7h0 M143.9,73.5h0 M140.0,69.7h0 M143.7,43.1h0 M134.4,50.8h0 M136.5,57.9h0 M144.9,53.1h0 M148.1,70.4h0 M146.5,54.9h0 M136.4,56.9h0 M144.8,74.1h0 M148.9,69.0h0 M132.5,53.1h0 M136.2,45.4h0 M139.2,43.6h0 M143.1,54.7h0 M134.1,65.7h0 M147.2,68.5h0 M134.5,66.2h0 M143.1,60.2h0 M131.8,62.0h0 M145.2,70.8h0 M145.2,45.5h0 M140.8,41.5h0 M149.0,69.9h0 M140.7,70.2h0 M139.9,68.9h0 M144.2,44.5h0 M139.0,48.6h0 M145.6,67.0h0 M143.8,46.2h0 M147.2,74.2h0 M136.6,59.1h0 M143.0,58.9h0 M145.7,57.9h0 M137.8,51.7h0 M137.4,47.1h0 M148.3,56.6h0 M140.1,68.1h0 M145.9,53.8h0 M142.1,64.4h0 M141.3,54.5h0 M148.4,64.8h0 M145.4,61.1h0 M145.3,43.7h0 M141.9,45.9h0 M144.7,65.0h0 M134.3,57.8h0 M145.7,63.9h0 M142.5,59.7h0 M130.2,55.1h0 M143.4,73.0h0 M130.3,58.7h0 M148.4,75.9h0 M136.2,46.7h0 M137.9,66.6h0 M140.3,59.3h0 M143.6,54.5h0 M130.6,57.4h0 M131.1,59.9h0 M144.3,62.5h0 M134.3,55.8h0 M140.3,53.4h0 M141.1,41.9h0 M137.5,58.5h0 M145.3,70.8h0 M144.9,53.5h0 M144.4,46.3h0 M136.4,67.8h0 M147.3,75.9h0 M143.0,69.4h0 M140.2,62.6h0 M143.9,45.5h0 M138.4,55.0h0 M139.0,43.3h0 M148.5,66.7h0 M138.6,48.0h0 M141.1,50.8h0 M142.7,51.9h0 M137.9,60.0h0 M141.1,46.2h0 M146.1,57.7h0 M142.4,66.1h0 M140.8,43.5h0 M137.0,43.7h0 M142.1,47.4h0 M133.4,63.8h0 M144.5,61.6h0 M139.4,55.2h0 M140.2,51.7h0 M147.4,70.7h0 M146.2,58.0h0 M139.6,42.5h0 M145.3,59.1h0 M146.2,51.7h0 M133.9,50.7h0 M129.7,57.6h0 M141.4,43.5h0 M149.2,68.5h0 M142.5,62.1h0 M140.1,69.3h0 M140.4,50.9h0 M129.7,57.7h0 M141.5,62.1h0 M142.1,68.1h0 M141.8,47.2h0 M138.6,43.3h0 M141.0,48.9h0 M142.3,68.2h0 M146.7,55.8h0 M138.6,55.6h0 M144.4,46.9h0 M145.8,51.5h0 M134.7,53.4h0 M140.3,59.4h0 M142.6,67.0h0 M144.0,54.2h0 M140.9,59.2h0 M133.7,59.3h0 M139.9,59.8h0 M147.3,64.0h0 M149.5,65.6h0 M146.9,51.1h0 M149.0,70.0h0 M137.3,59.3h0 M140.6,61.0h0 M144.5,52.0h0 M142.1,67.7h0 M137.1,65.6h0 M140.3,57.7h0 M135.0,54.0h0 M143.1,44.5h0 M144.8,54.8h0 M141.3,41.9h0 M134.1,51.8h0 M143.0,45.3h0 M139.4,49.1h0 M141.1,65.8h0 M140.1,68.3h0 M142.4,41.6h0 M143.2,57.7h0 M133.7,64.3h0 M138.5,56.5h0 M139.6,53.2h0 M142.5,40.5h0 M134.9,50.0h0 M141.4,53.2h0 M132.4,56.1h0 M134.9,65.3h0 M138.2,52.8h0 M142.9,43.6h0 M144.1,68.8h0 M146.2,51.2h0 M136.7,51.5h0 M136.7,47.1h0 M138.4,50.7h0 M137.5,55.2h0 M145.4,66.5h0 M147.0,75.1h0 M140.3,52.5h0 M146.0,65.2h0 M143.5,57.8h0 M145.5,57.4h0 M141.1,70.5h0 M139.6,57.3h0 M139.4,67.7h0 M144.9,51.7h0 M145.8,53.3h0 M143.6,53.4h0 M148.6,75.9h0 M145.9,53.5h0 M136.4,55.6h0 M144.6,67.1h0 M145.3,55.1h0 M148.1,67.2h0 M133.4,58.3h0 M140.0,52.9h0 M139.5,56.6h0 M137.1,62.2h0 M141.1,67.9h0 M135.3,65.4h0 M139.6,64.0h0 M140.3,64.1h0 M147.0,73.9h0 M137.3,67.4h0 M147.1,52.8h0 M137.9,53.0h0 M136.2,54.8h0 M141.0,64.0h0 M139.7,47.1h0 M142.9,56.2h0 M142.8,45.7h0 M141.4,45.7h0 M140.6,51.3h0 M136.6,68.0h0 M145.2,53.3h0 M140.8,61.5h0 M143.8,60.2h0 M148.5,62.2h0 M137.8,61.3h0 M136.9,63.9h0 M136.5,65.1h0 M141.5,67.3h0 M143.4,40.9h0 M149.1,65.9h0 M132.2,54.7h0 M148.8,68.4h0 M142.8,61.7h0 M139.9,64.5h0 M139.6,54.2h0 M137.6,65.5h0 M138.2,54.4h0 M133.3,52.5h0 M146.1,45.8h0 M139.2,49.7h0 M141.4,69.2h0 M131.2,57.8h0 M132.8,64.2h0 M143.6,47.1h0 M133.7,50.4h0 M148.0,70.0h0 M137.3,56.6h0 M133.1,56.7h0 M137.4,46.1h0 M143.9,58.9h0 M146.4,67.2h0 M145.1,48.8h0 M134.2,62.2h0 M144.6,58.0h0 M140.9,69.2h0 M143.8,57.1h0 M146.2,54.8h0 M135.7,59.8h0 M141.6,56.3h0 M146.8,66.5h0 M139.8,60.0h0 M146.6,56.2h0 M141.0,67.9h0 M145.0,63.2h0 M142.7,47.1h0 M132.5,59.9h0 M138.7,56.9h0 M137.5,45.0h0 M138.9,44.8h0 M144.9,73.3h0 M143.0,68.6h0 M148.7,74.2h0 M147.4,55.8h0 M137.0,48.5h0 M135.5,52.4h0 M138.2,42.5h0 M136.7,49.9h0 M141.8,49.7h0 M147.1,55.5h0 M137.0,66.0h0 M144.8,64.5h0 M145.5,46.0h0 M140.7,42.5h0 M147.4,54.9h0 M138.1,45.6h0 M138.1,62.6h0 M147.7,74.0h0 M143.4,65.8h0 M143.0,70.4h0 M146.6,63.3h0 M149.6,65.0h0 M142.8,50.5h0 M139.4,58.4h0 M148.4,67.2h0 M148.2,68.3h0 M133.5,64.3h0 M136.3,53.8h0 M146.9,71.9h0 M145.2,56.2h0 M149.2,62.6h0 M143.2,46.2h0 M145.3,65.8h0 M149.4,66.1h0 M144.2,52.9h0 M132.3,56.5h0 M131.7,57.3h0 M142.9,46.3h0 M142.5,60.3h0 M142.3,45.7h0 M142.3,48.0h0 M129.8,57.4h0 M140.0,55.5h0 M147.3,56.5h0 M135.1,56.4h0 M147.0,68.7h0 M133.0,51.0h0 M140.2,68.4h0 M143.5,43.5h0 M137.6,60.5h0 M141.8,43.0h0 M136.0,53.1h0 M145.0,69.6h0 M144.0,45.5h0 M132.5,52.3h0 M138.8,59.5h0 M141.9,51.0h0 M145.4,66.9h0 M137.8,44.4h0 M145.6,66.3h0 M141.1,68.1h0 M143.9,70.6h0 M148.2,69.6h0 M136.8,56.6h0 M141.6,70.5h0 M133.4,59.1h0 M141.2,63.1h0 M140.7,65.6h0 M141.8,53.4h0 M143.5,73.2h0 M134.8,51.4h0 M143.5,62.0h0 M137.6,53.6h0 M137.6,66.9h0 M138.4,66.9h0 M137.6,47.3h0 M141.9,40.5h0 M148.2,68.3h0 M134.3,54.4h0 M137.8,66.6h0 M134.9,52.5h0 M139.8,47.8h0 M138.1,68.2h0 M136.3,61.1h0 M133.7,53.8h0 M141.0,52.9h0 M130.7,60.5h0 M140.7,54.7h0 M141.9,68.5h0 M137.2,51.3h0 M143.9,61.0h0 M136.2,66.0h0 M142.8,51.5h0 M144.0,50.2h0 M144.7,66.8h0 M139.5,56.1h0 M145.2,56.7h0 M148.2,70.6h0 M141.5,49.1h0 M137.1,56.9h0 M143.4,63.3h0 M134.8,52.9h0 M130.8,61.3h0 M142.5,48.6h0 M136.5,56.1h0 M148.3,69.4h0 M138.2,53.9h0 M142.8,39.9h0 M143.0,65.7h0 M131.1,55.0h0 M140.4,52.1h0 M140.9,53.9h0 M136.0,57.0h0 M136.8,65.5h0 M132.5,60.0h0 M141.2,51.9h0 M144.0,71.3h0 M141.2,63.0h0 M142.8,64.2h0 M140.3,51.1h0 M143.7,71.9h0 M144.1,53.7h0 M143.5,55.7h0 M148.3,71.5h0 M141.8,56.9h0 M137.5,48.3h0 M142.1,52.5h0 M137.7,42.9h0 M139.0,56.0h0 M139.1,61.2h0 M133.5,64.1h0 M146.5,49.3h0 M145.1,70.9h0 M142.6,62.5h0 M140.4,52.4h0 M139.6,57.2h0 M147.1,64.4h0 M145.6,43.5h0 M139.8,65.6h0 M140.5,51.5h0 M132.3,62.4h0 M140.2,67.2h0 M145.2,73.2h0 M137.0,66.3h0 M144.1,54.7h0 M139.0,66.9h0 M141.7,47.9h0 M138.4,46.3h0 M144.7,67.8h0 M143.8,43.7h0 M146.8,64.5h0 M147.0,58.6h0 M144.2,64.9h0 M142.6,58.8h0 M137.0,43.9h0 M149.7,68.8h0 M138.3,44.5h0 M139.5,57.9h0 M133.3,49.7h0 M144.7,49.3h0 M137.7,57.1h0 M138.4,67.9h0 M134.4,54.4h0 M145.3,50.9h0 M132.7,59.8h0 M148.5,64.1h0 M131.0,55.6h0 M137.9,56.0h0 M135.4,59.9h0 M143.0,51.7h0 M142.6,55.2h0 M147.1,60.6h0 M144.7,61.2h0 M144.1,53.9h0 M131.9,52.8h0 M145.7,59.3h0 M139.3,66.5h0 M147.9,58.6h0 M137.7,52.0h0 M138.2,69.1h0 M138.9,67.1h0 M140.0,68.0h0 M139.6,61.5h0 M141.0,42.4h0 M134.9,62.1h0 M147.3,59.2h0 M134.0,50.6h0 M140.9,67.9h0 M133.7,63.7h0 M137.5,68.8h0 M144.7,53.0h0 M141.7,44.1h0 M142.1,64.2h0 M133.8,65.0h0 M143.4,46.9h0 M144.9,62.9h0 M137.0,66.0h0 M145.5,65.5h0 M136.2,45.9h0 M134.0,57.9h0 M142.2,54.6h0 M144.4,48.7h0 M139.2,46.8h0 M136.7,50.1h0 M140.6,43.9h0 M146.9,71.0h0 M143.0,60.1h0 M136.8,66.8h0 M133.5,62.6h0 M137.9,43.9h0 M145.8,45.7h0 M146.4,68.7h0 M138.3,56.4h0 M144.1,53.1h0 M141.1,53.0h0 M145.5,55.6h0 M132.1,60.7h0 M149.1,66.4h0 M147.1,55.2h0 M147.1,75.1h0 M131.7,55.2h0 M140.4,60.3h0 M142.7,45.2h0 M146.0,73.2h0 M137.9,43.5h0 M141.3,50.1h0 M141.0,49.2h0 M141.6,47.1h0 M138.9,61.5h0 M135.4,62.5h0 M131.2,54.9h0 M131.9,60.2h0 M141.8,63.3h0 M148.3,62.6h0 M145.7,42.9h0 M148.0,75.5h0 M141.7,71.4h0 M140.8,55.7h0 M132.2,57.5h0 M144.4,70.1h0 M148.4,59.0h0 M140.6,69.2h0 M144.6,45.9h0 M147.5,60.9h0 M131.6,59.1h0 M145.7,47.2h0 M131.9,62.1h0 M143.6,62.4h0 M136.4,54.1h0 M134.9,66.0h0 M141.2,49.7h0 M135.3,46.0h0 M144.2,66.0h0 M141.8,51.8h0 M140.8,64.5h0 M146.8,73.0h0 M138.2,56.2h0 M148.5,70.4h0 M141.3,50.4h0 M146.8,65.4h0 M132.9,61.1h0 M135.6,46.9h0 M139.0,63.1h0 M140.6,46.9h0 M146.7,75.6h0 M140.7,54.9h0 M146.1,45.0h0 M133.6,56.3h0 M130.7,59.0h0 M141.9,71.9h0 M135.9,62.6h0 M141.1,51.8h0 M143.0,67.5h0 M143.7,65.3h0 M137.1,66.9h0 M136.4,47.6h0 M130.8,60.4h0 M135.2,53.2h0 M140.3,60.3h0 M137.5,60.2h0 M146.7,59.2h0 M140.0,52.3h0 M141.3,42.9h0 M145.4,56.4h0 M142.4,55.5h0 M146.2,65.5h0 M131.3,60.3h0 M136.8,47.3h0 M137.7,55.6h0 M143.7,69.6h0 M148.3,61.8h0 M142.3,40.6h0 M137.8,62.7h0 M144.9,65.4h0 M138.2,51.8h0 M142.5,56.7h0 M141.6,64.9h0 M139.3,58.0h0 M143.3,62.3h0 M146.7,60.5h0 M137.8,55.4h0 M138.2,48.5h0 M139.3,61.2h0 M144.4,46.1h0 M139.1,65.3h0 M137.7,61.9h0 M142.0,40.1h0 M149.1,66.5h0 M138.5,48.7h0 M145.6,54.0h0 M144.3,69.1h0 M144.3,41.8h0 M135.0,54.1h0 M149.1,59.5h0 M144.6,72.7h0 M148.0,64.9h0 M141.5,54.9h0 M147.8,65.0h0 M135.2,57.1h0 M142.6,47.6h0 M148.7,70.3h0 M139.9,51.2h0 M148.8,57.9h0 M146.3,49.7h0 M136.6,65.9h0 M146.8,58.5h0 M145.2,65.8h0 M138.4,59.1h0 M136.2,52.6h0 M143.2,48.0h0 M145.9,46.1h0 M139.3,61.9h0 M145.1,65.0h0 M138.5,61.1h0 M140.3,52.1h0 M145.8,55.7h0 M145.7,71.4h0 M144.0,70.6h0 M145.9,67.8h0 M136.1,53.4h0 M142.8,50.2h0 M145.1,45.7h0 M146.4,62.5h0 M145.6,62.9h0 M138.9,61.9h0 M141.2,49.7h0 M143.8,58.5h0 M137.4,66.5h0 M145.2,53.7h0 M145.9,55.4h0 M145.4,64.7h0 M141.8,48.3h0 M143.6,61.7h0 M142.5,52.0h0 M143.0,44.4h0 M138.9,70.4h0 M133.4,57.1h0 M141.9,54.0h0 M137.1,46.7h0 M137.2,56.4h0 M144.6,56.7h0 M137.4,47.3h0 M132.0,57.2h0 M142.8,42.5h0 M139.2,45.2h0 M142.0,52.1h0 M143.4,69.6h0 M137.6,53.6h0 M142.4,70.6h0 M140.6,65.2h0 M135.9,53.0h0 M144.6,57.7h0 M138.3,60.8h0 M131.2,57.1h0 M140.2,66.4h0 M140.3,58.3h0 M143.5,55.2h0 M144.0,53.6h0 M137.5,52.0h0 M141.1,56.7h0 M148.8,74.4h0 M143.9,45.3h0 M144.3,40.5h0 M140.0,56.3h0 M137.2,56.9h0 M135.5,47.4h0 M135.3,49.2h0 M137.0,60.7h0 M146.6,65.4h0 M149.3,71.9h0 M142.8,39.5h0 M137.0,66.2h0 M146.2,71.8h0 M139.7,55.9h0 M146.1,47.2h0 M134.7,49.9h0 M146.6,53.7h0 M142.7,43.9h0 M134.9,61.5h0 M143.2,49.7h0 M140.0,51.6h0 M141.5,42.7h0 M140.9,45.8h0 M138.5,48.9h0 M142.8,69.5h0 M138.7,60.3h0 M136.4,49.8h0 M135.8,62.2h0 M139.6,50.7h0 M143.5,39.8h0 M141.6,62.5h0 M130.6,58.5h0 M145.2,69.9h0 M144.9,65.5h0 M131.4,54.7h0 M145.6,42.4h0 M141.1,49.0h0 M142.4,67.6h0 M142.1,60.9h0 M137.0,47.1h0 M141.8,54.1h0 M144.6,55.5h0 M136.9,67.7h0 M146.8,50.0h0 M146.4,61.5h0 M137.8,44.0h0 M147.5,67.0h0 M134.0,55.4h0 M143.8,53.1h0 M134.3,59.4h0 M134.2,57.6h0 M131.6,58.3h0 M143.9,41.3h0 M148.6,58.8h0 M140.0,45.6h0 M139.4,68.7h0 M136.1,56.8h0 M143.0,57.9h0 M137.8,47.8h0 M137.2,43.8h0 M147.3,70.2h0 M132.2,55.2h0 M142.3,41.0h0 M147.9,55.5h0 M140.2,52.3h0 M139.7,42.6h0 M136.5,58.5h0 M130.5,58.4h0 M147.3,61.9h0 M146.5,56.3h0" stroke="#e9a21f" stroke-width="1.20" stroke-linecap="round" fill="none"/>
<path d="M140.5,68.1h0 M145.4,70.8h0 M142.6,57.9h0 M149.8,68.5h0 M143.0,63.8h0 M143.8,67.8h0 M143.6,63.0h0 M141.6,71.4h0 M148.3,70.5h0 M143.9,63.7h0 M140.8,59.5h0 M143.5,66.8h0 M144.6,60.8h0 M143.6,64.2h0 M142.0,64.8h0 M140.2,65.4h0 M140.4,65.9h0 M144.3,61.0h0 M142.8,56.1h0 M145.9,59.0h0 M145.0,71.1h0 M147.0,74.3h0 M146.7,59.1h0 M148.5,72.2h0 M142.9,67.0h0 M148.3,57.6h0 M141.2,64.1h0 M141.8,65.0h0 M141.5,68.1h0 M147.2,67.7h0 M145.7,61.2h0 M140.5,70.1h0 M144.1,67.7h0 M146.5,68.8h0 M142.4,70.5h0 M140.4,69.3h0 M146.7,63.1h0 M147.7,69.6h0 M145.2,56.6h0 M146.1,60.0h0 M140.4,61.6h0 M144.6,63.2h0 M147.9,57.0h0 M141.0,66.5h0 M147.0,61.3h0 M143.0,62.9h0 M148.3,59.5h0 M142.7,72.0h0 M142.4,60.5h0 M144.2,58.7h0 M148.2,75.5h0 M147.3,63.4h0 M148.8,76.7h0 M140.8,70.1h0 M148.3,63.7h0 M147.6,60.8h0 M149.0,67.8h0 M141.8,58.8h0 M145.4,66.1h0 M144.2,64.6h0 M143.1,58.1h0 M143.2,67.0h0 M140.9,61.4h0 M144.4,62.1h0 M142.7,56.4h0 M144.3,68.8h0 M142.8,71.7h0 M146.3,55.1h0 M145.9,67.3h0 M141.3,62.0h0 M147.3,63.3h0 M145.0,59.2h0 M146.2,65.4h0 M144.2,60.1h0 M147.2,63.9h0 M142.5,56.4h0 M145.9,71.1h0 M148.0,57.3h0 M141.0,69.3h0 M141.7,67.4h0 M147.9,62.1h0 M146.5,68.4h0 M146.7,67.0h0 M149.4,68.4h0 M147.0,61.2h0 M139.8,67.3h0 M142.6,58.3h0 M145.6,61.5h0 M139.9,65.7h0 M145.0,61.3h0 M146.8,64.5h0 M148.6,70.3h0 M145.1,74.4h0 M147.1,73.2h0 M147.9,65.8h0 M142.0,57.4h0 M145.0,58.2h0 M145.0,55.5h0 M142.2,70.1h0 M140.4,66.5h0 M142.0,70.4h0 M148.2,61.6h0 M145.2,63.2h0 M146.4,68.9h0 M140.1,65.3h0 M149.5,67.4h0 M146.3,64.9h0 M141.2,58.1h0 M147.1,74.1h0 M141.4,60.9h0 M145.0,59.0h0 M141.7,71.5h0 M146.6,62.2h0 M144.3,68.0h0 M144.4,64.6h0 M143.9,56.4h0 M145.7,65.6h0 M145.1,64.0h0 M145.5,55.1h0 M146.0,68.7h0 M140.8,67.6h0 M146.1,66.4h0 M147.7,64.8h0 M147.2,62.7h0 M145.3,71.7h0 M145.7,68.5h0 M143.2,62.2h0 M146.6,64.6h0 M143.9,62.9h0 M142.1,69.0h0 M146.5,66.7h0 M146.3,70.0h0 M143.0,66.4h0 M146.6,69.7h0 M144.5,64.7h0 M147.0,67.0h0 M141.3,59.1h0 M142.1,62.5h0 M141.3,59.8h0 M147.5,62.4h0 M149.2,67.2h0 M145.6,59.4h0 M149.4,61.8h0 M148.4,71.2h0 M142.9,60.0h0 M142.2,61.4h0 M144.7,66.1h0 M140.4,70.7h0 M142.3,55.8h0 M143.3,72.2h0 M149.2,61.6h0 M143.4,71.1h0 M144.2,58.6h0 M142.4,61.9h0 M146.5,58.3h0 M148.6,58.5h0 M148.9,60.6h0 M140.3,66.2h0 M147.2,56.6h0 M143.1,57.6h0 M144.8,69.5h0 M142.6,65.1h0 M145.2,63.9h0 M149.1,61.1h0 M144.6,72.5h0 M147.5,76.2h0 M148.1,60.9h0 M149.6,66.8h0 M148.0,71.5h0 M144.9,64.5h0 M145.3,61.5h0 M140.1,67.9h0 M140.9,67.2h0 M144.5,61.8h0 M144.6,55.0h0 M143.7,67.9h0 M146.6,54.7h0 M147.0,69.2h0 M141.0,65.0h0 M143.7,57.9h0 M143.4,55.1h0 M145.2,63.4h0 M144.8,57.1h0 M147.6,70.6h0 M140.0,70.9h0 M140.9,66.6h0 M147.3,64.2h0 M140.6,65.0h0 M147.1,67.0h0 M149.4,65.3h0 M145.1,68.3h0 M148.5,59.7h0 M144.3,58.9h0 M149.3,67.4h0 M147.7,71.4h0 M147.3,55.9h0 M147.9,70.7h0 M143.9,60.0h0 M147.6,74.2h0 M147.6,61.5h0 M145.6,61.3h0 M145.3,66.7h0 M148.5,72.8h0 M147.7,73.5h0 M143.7,59.1h0 M144.3,61.0h0 M143.2,72.9h0 M142.5,71.2h0 M146.5,74.6h0 M142.1,70.0h0 M146.1,61.7h0 M141.6,69.5h0 M146.3,58.8h0 M147.2,55.4h0 M145.5,66.6h0 M141.0,66.8h0 M140.1,66.8h0 M148.6,70.2h0 M144.3,57.4h0 M144.5,54.8h0 M146.8,63.4h0 M143.4,62.9h0 M141.9,57.0h0 M146.5,66.4h0 M143.8,72.1h0 M144.7,57.5h0 M141.8,67.4h0 M146.7,69.2h0 M147.7,62.4h0 M147.9,68.0h0 M141.6,56.6h0 M146.2,74.5h0 M148.6,68.1h0 M141.5,60.8h0 M149.1,60.3h0 M144.5,67.1h0 M147.6,55.9h0 M148.0,71.2h0 M142.1,65.0h0 M145.0,67.3h0 M145.5,55.1h0 M149.0,66.5h0 M139.7,66.0h0 M140.8,64.2h0 M147.3,72.2h0 M140.5,60.6h0 M140.8,68.6h0 M146.6,56.3h0 M140.2,70.3h0 M147.7,57.0h0 M143.5,61.5h0 M140.3,69.7h0 M144.0,69.9h0 M139.9,70.1h0 M146.9,68.0h0 M148.1,59.4h0 M143.2,68.3h0 M143.2,55.1h0 M140.2,67.5h0 M145.8,60.6h0 M146.8,73.5h0 M141.0,59.2h0 M143.6,68.3h0 M149.4,68.2h0 M141.8,71.5h0 M145.6,65.0h0 M145.3,58.2h0 M141.1,68.0h0 M143.5,65.9h0 M149.7,65.1h0 M147.7,55.0h0 M144.5,54.8h0" stroke="#e3861f" stroke-width="1.20" stroke-linecap="round" fill="none"/>
<path d="M91.2,60.9h0 M93.4,62.2h0 M91.1,55.6h0 M87.1,64.7h0 M91.0,52.5h0 M93.3,62.3h0 M89.4,61.1h0 M86.3,57.6h0 M90.0,52.5h0 M85.4,60.1h0 M95.2,62.5h0 M87.6,53.3h0 M94.2,64.7h0 M82.4,57.4h0 M90.6,61.8h0 M84.6,63.9h0 M91.7,63.5h0 M92.8,55.4h0 M85.8,56.7h0 M95.3,60.3h0 M85.9,65.2h0 M92.5,62.5h0 M89.4,61.5h0 M88.1,59.1h0 M84.1,56.6h0 M88.3,62.6h0 M83.8,53.8h0 M92.3,58.3h0 M88.8,64.1h0 M94.3,56.3h0 M90.1,57.0h0 M84.4,55.2h0 M90.8,61.9h0 M92.4,55.6h0 M95.0,56.7h0 M86.1,54.0h0 M89.7,53.0h0 M86.7,52.3h0 M84.4,59.1h0 M86.8,52.3h0 M88.3,55.3h0 M88.8,61.8h0 M85.6,56.7h0 M96.8,60.9h0 M88.8,54.0h0 M85.2,64.4h0 M87.6,58.4h0 M85.2,53.9h0 M86.6,63.6h0 M86.3,60.0h0 M90.1,60.2h0 M95.0,59.1h0 M89.6,62.1h0 M89.3,59.9h0 M86.3,53.1h0 M84.3,60.0h0 M87.7,60.8h0 M93.1,63.5h0 M93.6,63.9h0 M86.9,63.5h0 M86.7,60.6h0 M96.2,62.9h0 M93.3,53.0h0 M83.7,55.8h0 M92.6,52.5h0 M84.4,55.1h0 M90.7,62.2h0 M91.4,65.5h0 M87.4,54.2h0 M88.9,55.2h0 M93.9,56.5h0 M92.1,63.0h0 M87.0,58.3h0 M95.0,55.6h0 M93.4,57.6h0 M93.5,55.2h0 M85.5,53.9h0 M89.2,58.6h0 M96.7,61.9h0 M88.7,57.7h0 M91.6,52.7h0 M86.2,60.4h0 M97.5,60.3h0 M95.0,54.2h0 M94.4,54.1h0 M95.5,62.2h0 M94.7,59.7h0 M90.1,63.1h0 M83.5,57.7h0 M90.5,53.0h0 M84.5,60.5h0 M91.1,57.3h0 M89.3,55.7h0 M86.6,60.0h0 M96.0,57.6h0 M85.0,56.3h0 M86.6,61.5h0 M84.1,61.8h0 M84.9,64.2h0 M95.8,58.2h0 M96.7,61.1h0 M91.8,56.4h0 M93.0,52.9h0 M89.1,52.0h0 M88.5,54.0h0 M90.5,58.5h0 M86.3,65.4h0 M89.2,56.4h0 M86.2,57.1h0 M94.0,55.5h0 M84.9,58.2h0 M83.6,59.6h0 M95.3,64.0h0 M87.7,61.4h0 M83.0,56.2h0 M84.0,58.6h0 M88.1,60.6h0 M91.4,54.8h0 M96.5,57.9h0 M94.7,62.3h0 M91.4,63.1h0 M95.3,61.8h0 M94.2,63.6h0 M90.8,64.6h0 M90.7,61.4h0 M87.8,51.8h0 M93.4,60.2h0 M85.2,55.9h0 M85.2,59.2h0 M85.9,59.4h0 M86.0,52.6h0 M93.3,54.8h0 M85.6,62.2h0 M96.9,56.6h0 M93.9,56.0h0 M90.6,60.7h0 M86.0,57.3h0 M88.2,56.5h0 M84.3,59.4h0 M89.4,54.1h0 M92.9,57.2h0 M91.2,57.2h0 M89.9,52.0h0 M86.8,64.3h0 M86.2,63.4h0 M88.5,52.5h0 M91.1,55.1h0 M95.2,61.5h0 M86.3,52.7h0 M91.2,53.7h0 M94.3,60.2h0 M84.9,63.2h0 M87.2,65.5h0 M83.9,56.8h0 M84.9,57.6h0 M93.3,52.8h0 M90.6,62.0h0 M83.2,61.0h0 M87.2,56.0h0 M95.3,63.0h0 M86.6,59.1h0 M85.0,62.7h0 M87.5,64.6h0 M86.8,52.6h0 M89.0,52.0h0 M83.7,59.1h0 M91.1,54.1h0 M84.2,59.0h0 M88.8,58.4h0 M92.8,52.9h0 M95.0,62.0h0 M83.7,56.0h0 M88.3,62.2h0 M85.0,61.0h0 M88.9,64.7h0 M95.5,61.4h0 M88.0,53.0h0 M91.8,58.8h0 M89.2,60.7h0 M88.1,58.2h0 M92.2,61.9h0 M93.5,57.3h0 M84.4,60.2h0 M91.9,52.2h0 M90.1,59.9h0 M93.8,55.0h0 M87.8,52.6h0 M95.8,60.6h0 M95.3,58.9h0 M82.9,57.1h0 M97.2,56.9h0 M92.8,63.5h0 M87.6,61.8h0 M88.2,56.8h0 M86.5,53.0h0 M85.0,53.8h0 M87.8,57.9h0 M94.2,55.3h0 M85.0,55.2h0 M88.0,61.2h0 M89.0,62.2h0 M95.6,58.1h0 M87.6,63.2h0 M89.6,64.7h0 M92.3,59.7h0 M85.9,58.5h0 M87.2,58.1h0 M93.6,59.1h0 M95.9,61.8h0 M87.8,59.0h0 M87.8,64.7h0 M86.3,53.5h0 M85.3,54.7h0 M95.2,61.7h0 M85.3,57.4h0 M91.1,53.1h0 M87.1,60.5h0 M86.3,54.1h0 M92.1,57.2h0 M89.3,64.7h0 M94.1,63.1h0 M85.0,62.4h0 M96.3,59.3h0 M85.6,63.9h0 M95.0,54.2h0 M91.0,57.7h0 M94.0,57.1h0 M86.6,62.9h0 M93.2,56.5h0 M93.6,54.8h0 M89.8,53.6h0 M87.1,57.4h0 M82.6,55.6h0 M87.2,55.9h0 M89.9,65.2h0 M96.0,55.4h0 M88.1,53.4h0 M82.6,57.1h0 M88.7,51.9h0 M84.8,59.6h0 M86.6,54.4h0 M83.0,59.3h0 M89.0,65.3h0 M89.5,52.0h0 M83.6,61.9h0 M85.1,56.2h0 M88.7,57.6h0 M86.0,53.1h0 M87.7,61.7h0 M95.0,59.1h0 M85.1,58.4h0 M90.5,53.8h0 M88.8,53.7h0 M92.6,53.7h0 M89.1,53.0h0 M91.5,58.9h0 M91.9,61.2h0 M91.6,55.2h0 M84.7,60.4h0 M89.6,55.4h0 M89.7,63.3h0 M84.5,58.4h0 M89.5,63.5h0 M93.5,57.4h0 M94.4,58.9h0 M90.5,61.7h0 M94.4,57.1h0 M87.4,65.5h0 M89.1,59.2h0 M86.3,55.8h0 M83.6,55.3h0 M95.9,62.3h0 M86.4,55.7h0 M85.7,60.4h0 M89.2,52.6h0 M96.4,60.7h0 M96.2,58.5h0 M89.7,61.9h0 M84.6,60.2h0 M89.8,55.4h0 M89.8,53.5h0 M92.3,52.5h0 M90.5,52.2h0 M95.2,55.4h0 M83.5,61.4h0 M85.3,63.8h0 M89.4,54.9h0 M91.4,54.2h0 M85.2,54.1h0 M83.8,57.3h0 M88.9,60.2h0 M90.7,61.7h0 M91.8,58.2h0 M88.2,64.3h0 M90.9,65.7h0 M85.9,57.3h0 M88.4,63.5h0 M93.9,58.6h0 M95.2,62.6h0 M93.1,52.8h0 M86.7,58.0h0 M83.7,58.0h0 M88.3,55.1h0 M85.4,55.7h0 M91.5,62.2h0 M88.6,62.2h0 M91.1,63.7h0 M93.8,63.0h0 M87.0,53.1h0 M93.3,53.6h0 M87.4,57.7h0 M92.2,59.0h0 M92.7,63.4h0 M88.5,58.6h0 M87.1,64.1h0 M90.6,61.9h0 M95.4,61.9h0 M96.6,58.0h0 M93.3,64.9h0 M89.6,63.9h0 M85.9,53.2h0 M96.0,59.5h0 M83.9,59.2h0 M93.6,59.9h0 M92.9,55.9h0 M97.2,58.6h0 M86.4,62.8h0 M93.0,62.0h0 M85.3,55.5h0 M89.8,52.2h0 M88.5,52.9h0 M86.9,56.2h0 M96.7,57.2h0 M90.1,59.1h0 M88.1,63.5h0 M89.9,56.3h0 M94.3,58.8h0 M88.1,62.3h0 M83.8,58.3h0 M94.8,57.0h0 M94.8,59.4h0 M92.5,54.5h0 M94.6,61.1h0 M88.1,63.2h0 M85.6,63.0h0 M93.8,55.3h0 M85.8,56.3h0 M94.7,60.9h0 M87.8,61.7h0 M96.2,59.0h0 M92.2,64.5h0 M84.8,58.2h0 M87.9,59.4h0 M88.9,58.8h0 M93.7,55.2h0 M82.5,58.1h0 M83.3,58.0h0 M84.0,57.8h0 M84.7,57.8h0 M91.6,61.5h0 M87.5,51.9h0 M88.6,60.7h0 M87.4,62.4h0 M86.5,63.8h0 M90.4,56.8h0 M84.3,60.1h0 M92.8,61.1h0 M97.1,60.0h0 M94.0,58.2h0 M88.6,52.8h0 M96.9,56.8h0 M90.8,57.8h0 M94.4,56.3h0 M90.0,54.3h0 M86.9,52.4h0 M85.6,55.1h0 M93.1,53.0h0 M96.2,62.9h0 M90.4,52.9h0 M89.2,59.6h0 M91.4,53.5h0 M85.0,55.8h0 M85.3,55.4h0 M84.9,56.2h0 M91.4,59.7h0 M93.8,55.1h0 M86.5,54.0h0 M91.5,62.2h0 M93.3,64.6h0 M94.6,58.2h0 M92.4,52.5h0 M88.5,52.7h0 M90.5,52.1h0 M85.3,63.2h0 M86.2,60.0h0 M96.2,60.9h0 M85.3,53.6h0 M89.8,59.9h0 M90.8,64.6h0 M96.0,59.1h0 M85.1,63.5h0 M88.6,54.8h0 M94.6,63.0h0 M95.5,58.6h0 M91.9,52.8h0 M93.1,54.2h0 M90.1,64.4h0 M85.9,56.5h0 M88.2,53.8h0 M97.3,58.2h0 M95.6,54.7h0 M91.6,62.7h0 M87.0,54.9h0 M82.5,60.8h0 M88.2,53.8h0 M86.6,55.8h0 M83.2,60.2h0 M83.7,54.1h0 M93.5,54.0h0 M86.8,63.5h0 M92.1,59.6h0 M96.9,61.5h0 M89.0,52.3h0 M89.3,64.8h0 M84.5,59.9h0" stroke="#239e9f" stroke-width="1.20" stroke-linecap="round" fill="none"/>
<circle cx="101.60" cy="64.10" r="1.10" fill="#239e9f"/>
<path d="M94.2,68.6h0 M93.1,69.5h0 M93.6,71.0h0 M93.4,71.4h0 M94.0,69.0h0 M93.6,70.7h0 M94.0,70.9h0 M92.8,68.5h0 M93.7,69.3h0" stroke="#239e9f" stroke-width="1.20" stroke-linecap="round" fill="none"/>
<path d="M107.6,44.8h0 M111.8,49.5h0 M110.9,50.5h0 M111.1,46.7h0 M111.3,47.4h0 M111.1,48.9h0 M110.8,44.2h0 M108.5,52.0h0 M107.2,52.0h0 M107.9,52.1h0 M107.4,45.3h0 M111.0,51.6h0 M107.6,45.8h0 M106.2,45.8h0 M111.4,47.8h0 M107.0,50.4h0 M111.4,45.8h0 M111.1,45.2h0 M107.2,52.1h0 M108.5,52.4h0 M106.5,45.0h0 M109.0,52.9h0 M105.9,47.1h0 M111.4,50.6h0 M111.5,50.7h0 M109.6,44.6h0 M105.5,46.5h0 M110.7,44.6h0 M107.6,50.9h0 M107.8,45.1h0 M108.0,44.1h0 M110.4,45.9h0 M107.5,51.3h0 M110.3,44.8h0 M106.6,47.3h0 M105.9,46.8h0 M110.8,50.9h0 M108.6,52.5h0 M112.1,50.7h0 M106.1,51.5h0 M112.2,49.3h0 M111.2,46.0h0 M106.7,51.4h0 M108.0,51.6h0 M111.6,46.0h0 M109.8,43.9h0 M108.4,51.9h0 M107.0,50.0h0 M107.5,45.1h0 M107.7,51.4h0 M108.9,51.8h0 M111.1,45.7h0 M106.3,47.2h0 M111.9,47.1h0 M110.5,52.2h0 M112.6,48.3h0 M108.8,44.8h0 M109.4,43.7h0 M106.7,46.6h0 M107.1,44.8h0 M110.2,50.9h0 M105.4,47.5h0 M107.4,52.1h0 M111.7,51.3h0 M110.9,45.9h0 M108.3,43.8h0 M111.4,49.4h0 M111.5,51.5h0 M108.7,44.8h0 M107.3,44.8h0 M106.3,46.7h0 M106.1,46.6h0 M107.7,51.8h0 M110.5,52.0h0 M110.0,45.1h0 M106.5,46.3h0 M109.9,51.2h0 M112.1,49.4h0 M110.7,51.0h0 M106.3,46.3h0 M109.4,52.7h0 M106.6,44.5h0 M107.2,52.3h0 M106.7,45.3h0 M111.5,49.1h0 M111.7,51.1h0 M111.2,51.0h0 M109.1,52.4h0 M106.9,50.6h0 M111.6,46.9h0 M111.2,51.6h0 M110.6,52.2h0 M109.5,43.4h0 M109.8,43.7h0 M106.1,45.3h0 M108.8,44.5h0 M106.5,51.8h0 M111.4,46.6h0 M111.9,46.1h0 M108.0,44.8h0 M108.5,51.9h0 M107.8,44.6h0 M109.3,51.6h0 M109.8,45.1h0 M110.3,51.9h0 M111.6,49.6h0 M109.9,52.9h0 M106.1,46.9h0 M110.9,44.2h0 M112.0,48.5h0 M109.7,43.6h0 M112.3,47.0h0 M110.7,46.1h0 M112.6,48.1h0 M106.7,44.5h0 M108.7,52.2h0 M111.2,50.8h0 M112.2,48.0h0 M109.6,52.1h0 M108.2,52.2h0 M106.4,46.6h0 M106.5,46.1h0 M110.9,44.2h0 M106.0,46.0h0 M108.1,51.5h0 M107.9,51.4h0 M109.2,43.4h0 M107.3,45.6h0 M111.2,51.7h0 M106.7,46.8h0 M112.2,48.1h0 M112.5,47.1h0 M109.7,43.5h0 M111.2,47.1h0 M107.2,51.7h0 M107.3,45.7h0 M108.4,52.9h0 M111.8,47.5h0 M112.1,46.3h0 M110.9,46.3h0 M106.5,51.2h0 M110.2,43.9h0 M111.2,51.3h0 M111.5,48.9h0 M111.7,49.6h0 M111.1,51.4h0 M106.0,50.9h0 M107.3,52.8h0 M110.6,50.5h0 M110.2,45.7h0 M110.0,51.5h0 M107.6,45.3h0 M106.3,51.3h0 M106.7,47.2h0 M108.9,47.5h0 M109.1,48.0h0 M108.8,48.2h0 M110.2,47.7h0 M108.2,47.8h0 M109.1,48.4h0 M110.3,49.0h0 M108.7,47.8h0" stroke="#5f9ea2" stroke-width="0.75" stroke-linecap="round" fill="none"/>
<path d="M89.5,94.8h0 M86.9,90.8h0 M88.3,91.6h0 M87.4,93.7h0 M86.8,94.5h0 M86.1,93.1h0 M87.7,91.8h0 M84.5,91.6h0 M85.5,91.7h0 M91.9,93.4h0 M90.3,93.5h0 M89.4,92.7h0 M87.2,92.8h0 M86.2,93.4h0 M86.8,90.5h0 M87.3,91.5h0 M89.7,91.9h0 M86.9,94.3h0 M84.7,91.2h0 M90.5,91.9h0 M84.0,92.3h0 M85.3,94.5h0 M84.5,92.3h0 M90.0,94.3h0 M85.8,91.7h0 M87.1,91.1h0 M89.9,94.1h0 M85.7,91.3h0 M83.7,93.3h0 M85.0,94.1h0 M90.1,94.7h0 M84.7,93.8h0 M88.6,92.4h0 M88.0,90.8h0 M87.1,93.7h0 M91.0,94.5h0 M87.9,95.0h0 M85.5,94.7h0 M84.9,91.5h0 M92.0,93.3h0 M86.6,92.9h0 M85.7,94.8h0 M84.1,93.6h0 M88.5,90.9h0 M90.6,92.4h0 M85.0,94.0h0 M87.6,91.4h0 M88.4,94.2h0 M85.8,91.4h0 M87.1,91.4h0 M84.5,90.9h0 M89.6,91.9h0 M84.2,91.3h0" stroke="#e8a4ab" stroke-width="1.20" stroke-linecap="round" fill="none"/>
<path d="M98.1,96.4h0 M93.9,92.3h0 M99.4,87.4h0 M96.0,91.5h0 M100.2,94.9h0 M97.4,94.6h0 M94.9,89.2h0 M95.7,91.5h0 M96.2,94.0h0 M103.9,91.8h0 M98.0,90.1h0 M100.4,91.9h0 M96.5,88.2h0 M104.9,93.4h0 M101.7,94.4h0 M95.5,87.7h0 M104.2,89.5h0 M98.6,96.9h0 M97.1,90.8h0 M96.8,90.4h0 M99.3,94.2h0 M103.7,93.4h0 M97.6,97.3h0 M98.4,91.6h0 M99.3,87.3h0 M102.0,93.3h0 M97.9,91.5h0 M95.1,91.5h0 M95.3,88.8h0 M97.1,93.9h0 M104.5,93.5h0 M103.5,94.4h0 M97.2,91.8h0 M95.9,88.0h0 M97.4,90.3h0 M100.1,96.2h0 M104.0,95.2h0 M101.6,90.7h0 M100.4,92.7h0 M95.6,93.2h0 M98.4,93.9h0 M96.7,96.0h0 M97.2,96.3h0 M99.5,93.7h0 M99.4,90.7h0 M102.6,90.5h0 M99.2,90.8h0 M96.6,95.3h0 M101.3,92.2h0 M101.3,95.2h0 M96.2,89.2h0 M98.8,96.4h0 M94.1,93.6h0 M96.0,93.2h0 M103.6,90.5h0 M94.2,92.0h0 M96.3,89.0h0 M99.0,96.4h0 M100.4,93.8h0 M95.0,93.1h0 M103.3,90.5h0 M101.1,90.6h0 M103.5,93.7h0 M98.2,87.4h0 M99.0,92.3h0 M94.7,93.0h0 M104.5,90.1h0 M95.2,92.4h0 M103.4,95.0h0 M92.9,92.2h0 M99.1,88.3h0 M93.6,90.2h0 M96.1,95.2h0 M101.1,89.9h0 M103.0,95.4h0 M105.2,92.6h0 M92.9,92.2h0 M105.1,94.2h0 M100.7,89.6h0 M94.9,95.2h0 M97.6,87.7h0 M95.7,92.3h0 M97.7,96.1h0 M103.6,93.9h0 M96.8,95.6h0 M98.1,96.1h0 M100.8,90.9h0 M96.5,92.7h0 M93.6,89.6h0 M101.6,88.7h0 M106.0,93.1h0 M96.6,88.5h0 M95.9,91.4h0 M93.7,90.2h0 M101.6,91.5h0 M94.2,94.7h0 M105.2,93.4h0 M105.3,90.8h0 M104.5,91.8h0 M104.0,94.5h0 M98.9,89.6h0 M104.8,94.8h0 M95.6,93.1h0 M98.4,96.5h0 M99.3,95.1h0 M98.7,93.8h0 M96.0,88.8h0 M105.3,93.4h0 M96.6,90.0h0 M96.8,92.9h0 M94.0,92.1h0 M97.0,91.2h0 M97.5,90.7h0 M99.9,94.6h0 M93.2,90.3h0 M98.7,94.7h0 M97.5,95.8h0 M99.8,87.5h0 M96.6,93.7h0 M104.1,94.8h0 M99.7,88.1h0 M103.7,95.0h0 M105.7,91.3h0 M96.9,97.4h0 M97.1,93.9h0 M96.5,94.3h0 M97.1,93.9h0 M104.2,92.6h0 M103.1,91.4h0 M94.9,90.5h0 M97.4,92.5h0 M99.2,96.5h0 M104.0,91.4h0 M103.7,94.0h0 M105.5,94.5h0 M94.7,92.3h0 M101.0,89.1h0 M102.3,93.0h0 M98.6,93.7h0 M97.6,92.7h0 M99.7,87.5h0 M95.6,94.7h0 M96.8,92.8h0 M98.0,89.6h0 M94.2,90.2h0 M101.7,92.7h0 M96.6,95.0h0 M96.9,97.1h0 M99.7,90.9h0 M103.1,92.6h0 M102.6,91.8h0 M99.8,94.7h0 M98.8,89.4h0 M100.1,90.1h0 M97.9,96.7h0 M101.3,89.1h0 M99.7,87.8h0 M98.8,90.2h0 M99.2,90.9h0 M94.6,89.1h0 M99.5,91.3h0 M93.4,94.1h0 M105.4,93.3h0 M96.8,92.7h0 M96.3,91.2h0 M103.8,91.5h0 M96.5,88.5h0 M100.4,92.8h0" stroke="#8a3c9c" stroke-width="1.20" stroke-linecap="round" fill="none"/>
<circle cx="95.80" cy="84.20" r="1.00" fill="#8a3c9c"/>
<circle cx="98.30" cy="84.70" r="0.90" fill="#8a3c9c"/>
<path d="M106.8,84.6 Q104,85 104.6,87 Q105.3,88.3 107.2,88" stroke="#8a3c9c" stroke-width="1.0" fill="none"/>
<circle cx="161.30" cy="90.50" r="1.10" fill="#a2628c"/>
<circle cx="162.20" cy="92.60" r="0.80" fill="#a2628c"/>
<circle cx="163.70" cy="98.70" r="0.90" fill="#a2628c"/>
<path d="M97.4,113.9h0 M96.5,115.5h0 M96.6,113.8h0 M95.7,116.1h0 M99.4,116.8h0 M95.9,115.4h0 M96.5,114.7h0 M95.9,116.2h0 M96.1,116.1h0 M95.9,114.7h0 M99.7,116.3h0 M97.5,116.1h0 M97.9,115.4h0 M95.6,114.4h0 M95.7,116.1h0 M96.7,116.3h0 M99.3,116.8h0 M95.2,114.8h0 M96.6,115.4h0 M97.5,116.1h0 M99.6,116.5h0 M98.5,116.1h0 M96.7,116.3h0 M97.2,114.2h0 M96.2,114.9h0 M95.1,115.7h0 M95.5,115.2h0 M96.0,116.5h0 M97.2,114.9h0 M99.7,115.2h0 M95.7,115.9h0 M97.1,116.7h0 M95.9,116.3h0 M98.7,116.0h0 M96.1,115.2h0" stroke="#86c1c8" stroke-width="1.20" stroke-linecap="round" fill="none"/>
<path d="M110.3,115.4h0 M107.5,127.0h0 M106.3,121.8h0 M107.2,116.4h0 M107.5,120.4h0 M105.4,115.6h0 M106.3,115.6h0 M105.9,115.8h0 M109.5,117.4h0 M106.4,120.0h0 M105.4,114.4h0 M105.2,112.3h0 M107.8,119.0h0 M106.1,119.9h0 M110.0,117.1h0 M109.4,119.2h0 M109.5,117.6h0 M106.0,114.6h0 M107.1,118.3h0 M106.7,117.2h0 M108.0,122.2h0 M105.3,113.6h0 M108.7,118.3h0 M105.7,115.5h0 M107.6,117.9h0 M105.8,118.8h0 M108.2,116.2h0 M108.6,122.5h0 M107.6,117.4h0 M107.7,118.2h0 M106.3,116.0h0 M108.4,123.4h0 M107.8,125.3h0 M108.1,123.8h0 M109.3,120.2h0 M105.7,113.7h0 M104.9,115.8h0 M109.4,115.2h0 M110.5,118.7h0 M107.6,117.2h0 M105.7,116.9h0 M106.7,122.2h0 M105.8,113.0h0 M107.9,122.5h0 M109.6,120.9h0 M109.2,114.1h0 M108.3,123.1h0 M108.5,117.1h0 M107.2,112.7h0 M108.3,122.9h0 M107.7,117.4h0 M108.6,126.0h0 M109.0,124.3h0 M108.4,120.5h0 M108.8,120.6h0 M108.6,124.7h0 M107.0,123.8h0 M110.4,116.8h0 M105.9,120.1h0 M107.4,117.9h0 M106.5,114.2h0 M107.5,113.4h0 M107.7,122.8h0 M110.6,118.4h0 M108.4,120.1h0 M109.3,114.9h0 M105.6,114.1h0 M105.6,117.1h0 M106.0,116.8h0 M109.3,116.8h0 M107.2,126.0h0 M104.6,114.7h0 M108.6,114.9h0 M107.2,114.6h0 M108.8,122.3h0 M110.1,116.2h0 M109.4,118.0h0 M106.2,114.0h0 M106.1,112.2h0 M108.4,125.6h0 M108.9,118.0h0 M107.5,115.0h0 M109.4,116.5h0 M109.7,115.0h0 M106.6,113.3h0 M107.1,125.1h0 M107.4,116.5h0 M104.7,117.5h0 M108.5,117.3h0 M109.4,115.4h0 M107.9,116.5h0 M105.9,119.5h0 M107.3,121.8h0 M109.0,118.7h0 M108.8,120.6h0 M108.9,122.4h0 M107.5,120.8h0 M106.1,121.2h0 M108.3,127.1h0 M107.3,118.0h0 M109.9,115.3h0 M108.6,113.4h0 M107.9,120.1h0" stroke="#86c1c8" stroke-width="1.20" stroke-linecap="round" fill="none"/>
<circle cx="125.00" cy="60.70" r="0.50" fill="#e9a21f"/>
<circle cx="126.20" cy="59.60" r="0.50" fill="#e9a21f"/>
<circle cx="113.50" cy="75.50" r="0.50" fill="#74b3cc"/>
<circle cx="119.00" cy="66.00" r="0.50" fill="#74b3cc"/>
<circle cx="116.60" cy="83.00" r="0.50" fill="#74b3cc"/>
<circle cx="138.00" cy="50.00" r="0.50" fill="#e9a21f"/>
<circle cx="131.50" cy="59.00" r="0.50" fill="#e9a21f"/>
<rect x="175.90" y="38.40" width="1.00" height="0.70" fill="#666"/>
<text stroke="#2e2e2e" stroke-width="0.1" x="179.60" y="40.65" font-size="5.6" fill="#2e2e2e">B_cell_clone0</text>
<rect x="175.90" y="46.40" width="1.00" height="0.70" fill="#666"/>
<text stroke="#2e2e2e" stroke-width="0.1" x="179.60" y="48.65" font-size="5.6" fill="#2e2e2e">B_cell_clone1</text>
<rect x="175.90" y="54.65" width="1.00" height="0.70" fill="#666"/>
<text stroke="#2e2e2e" stroke-width="0.1" x="179.60" y="56.90" font-size="5.6" fill="#2e2e2e">B_cell_clone2</text>
<rect x="175.90" y="63.40" width="1.00" height="0.70" fill="#666"/>
<text stroke="#2e2e2e" stroke-width="0.1" x="179.60" y="65.65" font-size="5.6" fill="#2e2e2e">Endothelial_cell_clone0</text>
<rect x="175.90" y="71.95" width="1.00" height="0.70" fill="#666"/>
<text stroke="#2e2e2e" stroke-width="0.1" x="179.60" y="74.20" font-size="5.6" fill="#2e2e2e">Endothelial_cell_clone1</text>
<rect x="175.90" y="80.15" width="1.00" height="0.70" fill="#666"/>
<text stroke="#2e2e2e" stroke-width="0.1" x="179.60" y="82.40" font-size="5.6" fill="#2e2e2e">Endothelial_cell_clone2</text>
<rect x="175.90" y="88.05" width="1.00" height="0.70" fill="#666"/>
<text stroke="#2e2e2e" stroke-width="0.1" x="179.60" y="90.30" font-size="5.6" fill="#2e2e2e">Epithelial_cell_clone0</text>
<rect x="175.90" y="96.05" width="1.00" height="0.70" fill="#666"/>
<text stroke="#2e2e2e" stroke-width="0.1" x="179.60" y="98.30" font-size="5.6" fill="#2e2e2e">Epithelial_cell_clone1</text>
<rect x="175.90" y="104.25" width="1.00" height="0.70" fill="#666"/>
<text stroke="#2e2e2e" stroke-width="0.1" x="179.60" y="106.50" font-size="5.6" fill="#2e2e2e">Epithelial_cell_clone2</text>
<rect x="175.90" y="112.65" width="1.00" height="0.70" fill="#666"/>
<text stroke="#2e2e2e" stroke-width="0.1" x="179.60" y="114.90" font-size="5.6" fill="#2e2e2e">Fibroblast_clone0</text>
<rect x="175.90" y="120.75" width="1.00" height="0.70" fill="#666"/>
<text stroke="#2e2e2e" stroke-width="0.1" x="179.60" y="123.00" font-size="5.6" fill="#2e2e2e">Fibroblast_clone1</text>
<rect x="175.90" y="126.95" width="1.00" height="0.70" fill="#666"/>
<text stroke="#2e2e2e" stroke-width="0.1" x="179.60" y="129.20" font-size="5.6" fill="#2e2e2e">Macrophage_clone0</text>
<rect x="361.5" y="17.1" width="88.0" height="99.1" fill="none" stroke="#8f8f8f" stroke-width="0.8"/>
<line x1="361.50" y1="16.80" x2="361.50" y2="116.40" stroke="#333" stroke-width="0.7"/>
<line x1="361.30" y1="116.20" x2="449.80" y2="116.20" stroke="#333" stroke-width="0.7"/>
<line x1="360.00" y1="21.00" x2="361.50" y2="21.00" stroke="#333" stroke-width="0.5"/>
<text stroke="#4a4a4a" stroke-width="0.1" x="359.60" y="22.95" font-size="5.6" text-anchor="end" fill="#4a4a4a">1.00</text>
<line x1="360.00" y1="43.81" x2="361.50" y2="43.81" stroke="#333" stroke-width="0.5"/>
<text stroke="#4a4a4a" stroke-width="0.1" x="359.60" y="45.76" font-size="5.6" text-anchor="end" fill="#4a4a4a">0.75</text>
<line x1="360.00" y1="66.62" x2="361.50" y2="66.62" stroke="#333" stroke-width="0.5"/>
<text stroke="#4a4a4a" stroke-width="0.1" x="359.60" y="68.58" font-size="5.6" text-anchor="end" fill="#4a4a4a">0.50</text>
<line x1="360.00" y1="89.44" x2="361.50" y2="89.44" stroke="#333" stroke-width="0.5"/>
<text stroke="#4a4a4a" stroke-width="0.1" x="359.60" y="91.39" font-size="5.6" text-anchor="end" fill="#4a4a4a">0.25</text>
<line x1="360.00" y1="112.25" x2="361.50" y2="112.25" stroke="#333" stroke-width="0.5"/>
<text stroke="#4a4a4a" stroke-width="0.1" x="359.60" y="114.20" font-size="5.6" text-anchor="end" fill="#4a4a4a">0.00</text>
<text stroke="#222" stroke-width="0.1" x="0" y="0" font-size="5.6" text-anchor="middle" fill="#222" transform="translate(343.0,62.9) rotate(-90)">Fraction</text>
<rect x="364.00" y="21.00" width="6.30" height="91.25" fill="#4163b0" stroke="#15202a" stroke-width="0.8"/>
<line x1="367.15" y1="116.20" x2="367.15" y2="117.80" stroke="#333" stroke-width="0.5"/>
<text stroke="#4a4a4a" stroke-width="0.1" x="0" y="0" font-size="5.6" text-anchor="end" fill="#4a4a4a" transform="translate(369.15,120.70) rotate(-45)">B_cell</text>
<rect x="373.66" y="41.99" width="6.30" height="70.26" fill="#4163b0" stroke="#15202a" stroke-width="0.8"/>
<rect x="373.66" y="26.02" width="6.30" height="15.97" fill="#8bc66b" stroke="#15202a" stroke-width="0.8"/>
<rect x="373.66" y="23.55" width="6.30" height="2.46" fill="#e5564e" stroke="#15202a" stroke-width="0.8"/>
<rect x="373.66" y="21.00" width="6.30" height="2.55" fill="#2f9a6b" stroke="#15202a" stroke-width="0.8"/>
<line x1="376.81" y1="116.20" x2="376.81" y2="117.80" stroke="#333" stroke-width="0.5"/>
<text stroke="#4a4a4a" stroke-width="0.1" x="0" y="0" font-size="5.6" text-anchor="end" fill="#4a4a4a" transform="translate(378.81,120.70) rotate(-45)">Endothelial_cell</text>
<rect x="383.32" y="32.22" width="6.30" height="80.03" fill="#4163b0" stroke="#15202a" stroke-width="0.8"/>
<rect x="383.32" y="22.64" width="6.30" height="9.58" fill="#8bc66b" stroke="#15202a" stroke-width="0.8"/>
<rect x="383.32" y="21.00" width="6.30" height="1.64" fill="#2f9a6b" stroke="#15202a" stroke-width="0.8"/>
<line x1="386.47" y1="116.20" x2="386.47" y2="117.80" stroke="#333" stroke-width="0.5"/>
<text stroke="#4a4a4a" stroke-width="0.1" x="0" y="0" font-size="5.6" text-anchor="end" fill="#4a4a4a" transform="translate(388.47,120.70) rotate(-45)">Epithelial_cell</text>
<rect x="392.98" y="52.30" width="6.30" height="59.95" fill="#4163b0" stroke="#15202a" stroke-width="0.8"/>
<rect x="392.98" y="23.10" width="6.30" height="29.20" fill="#8bc66b" stroke="#15202a" stroke-width="0.8"/>
<rect x="392.98" y="21.00" width="6.30" height="2.10" fill="#86cde6" stroke="#15202a" stroke-width="0.8"/>
<line x1="396.13" y1="116.20" x2="396.13" y2="117.80" stroke="#333" stroke-width="0.5"/>
<text stroke="#4a4a4a" stroke-width="0.1" x="0" y="0" font-size="5.6" text-anchor="end" fill="#4a4a4a" transform="translate(398.13,120.70) rotate(-45)">Fibroblast</text>
<rect x="402.64" y="39.25" width="6.30" height="73.00" fill="#4163b0" stroke="#15202a" stroke-width="0.8"/>
<rect x="402.64" y="21.00" width="6.30" height="18.25" fill="#8bc66b" stroke="#15202a" stroke-width="0.8"/>
<line x1="405.79" y1="116.20" x2="405.79" y2="117.80" stroke="#333" stroke-width="0.5"/>
<text stroke="#4a4a4a" stroke-width="0.1" x="0" y="0" font-size="5.6" text-anchor="end" fill="#4a4a4a" transform="translate(407.79,120.70) rotate(-45)">Macrophage</text>
<rect x="412.30" y="21.00" width="6.30" height="91.25" fill="#4163b0" stroke="#15202a" stroke-width="0.8"/>
<line x1="415.45" y1="116.20" x2="415.45" y2="117.80" stroke="#333" stroke-width="0.5"/>
<text stroke="#4a4a4a" stroke-width="0.1" x="0" y="0" font-size="5.6" text-anchor="end" fill="#4a4a4a" transform="translate(417.45,120.70) rotate(-45)">Mast_cell</text>
<rect x="421.96" y="35.42" width="6.30" height="76.83" fill="#4163b0" stroke="#15202a" stroke-width="0.8"/>
<rect x="421.96" y="23.56" width="6.30" height="11.86" fill="#8bc66b" stroke="#15202a" stroke-width="0.8"/>
<rect x="421.96" y="21.00" width="6.30" height="2.56" fill="#f5c447" stroke="#15202a" stroke-width="0.8"/>
<line x1="425.11" y1="116.20" x2="425.11" y2="117.80" stroke="#333" stroke-width="0.5"/>
<text stroke="#4a4a4a" stroke-width="0.1" x="0" y="0" font-size="5.6" text-anchor="end" fill="#4a4a4a" transform="translate(427.11,120.70) rotate(-45)">Monocyte</text>
<rect x="431.62" y="36.33" width="6.30" height="75.92" fill="#4163b0" stroke="#15202a" stroke-width="0.8"/>
<rect x="431.62" y="23.10" width="6.30" height="13.23" fill="#8bc66b" stroke="#15202a" stroke-width="0.8"/>
<rect x="431.62" y="21.00" width="6.30" height="2.10" fill="#f5c447" stroke="#15202a" stroke-width="0.8"/>
<line x1="434.77" y1="116.20" x2="434.77" y2="117.80" stroke="#333" stroke-width="0.5"/>
<text stroke="#4a4a4a" stroke-width="0.1" x="0" y="0" font-size="5.6" text-anchor="end" fill="#4a4a4a" transform="translate(436.77,120.70) rotate(-45)">NK_cell</text>
<rect x="441.28" y="39.25" width="6.30" height="73.00" fill="#4163b0" stroke="#15202a" stroke-width="0.8"/>
<rect x="441.28" y="24.10" width="6.30" height="15.15" fill="#8bc66b" stroke="#15202a" stroke-width="0.8"/>
<rect x="441.28" y="22.46" width="6.30" height="1.64" fill="#f5c447" stroke="#15202a" stroke-width="0.8"/>
<rect x="441.28" y="21.00" width="6.30" height="1.46" fill="#2f9a6b" stroke="#15202a" stroke-width="0.8"/>
<line x1="444.43" y1="116.20" x2="444.43" y2="117.80" stroke="#333" stroke-width="0.5"/>
<text stroke="#4a4a4a" stroke-width="0.1" x="0" y="0" font-size="5.6" text-anchor="end" fill="#4a4a4a" transform="translate(446.43,120.70) rotate(-45)">T_cell</text>
<text stroke="#222" stroke-width="0.1" x="455.00" y="51.80" font-size="5.6" fill="#222">Clone</text>
<rect x="455.30" y="53.90" width="4.60" height="4.50" fill="#2f9a6b" stroke="#1a1a1a" stroke-width="0.6"/>
<text stroke="#222" stroke-width="0.1" x="461.80" y="58.00" font-size="5.6" fill="#222">clone5</text>
<rect x="455.30" y="59.00" width="4.60" height="4.50" fill="#86cde6" stroke="#1a1a1a" stroke-width="0.6"/>
<text stroke="#222" stroke-width="0.1" x="461.80" y="63.10" font-size="5.6" fill="#222">clone4</text>
<rect x="455.30" y="64.10" width="4.60" height="4.50" fill="#e5564e" stroke="#1a1a1a" stroke-width="0.6"/>
<text stroke="#222" stroke-width="0.1" x="461.80" y="68.20" font-size="5.6" fill="#222">clone3</text>
<rect x="455.30" y="69.20" width="4.60" height="4.50" fill="#f5c447" stroke="#1a1a1a" stroke-width="0.6"/>
<text stroke="#222" stroke-width="0.1" x="461.80" y="73.30" font-size="5.6" fill="#222">clone2</text>
<rect x="455.30" y="74.30" width="4.60" height="4.50" fill="#8bc66b" stroke="#1a1a1a" stroke-width="0.6"/>
<text stroke="#222" stroke-width="0.1" x="461.80" y="78.40" font-size="5.6" fill="#222">clone1</text>
<rect x="455.30" y="79.40" width="4.60" height="4.50" fill="#4163b0" stroke="#1a1a1a" stroke-width="0.6"/>
<text stroke="#222" stroke-width="0.1" x="461.80" y="83.50" font-size="5.6" fill="#222">clone0</text>
<rect x="77.90" y="179.60" width="118.30" height="106.90" fill="#fdf2e8"/>
<rect x="77.90" y="179.60" width="19.72" height="85.20" fill="#7c281c"/>
<rect x="77.90" y="264.80" width="19.72" height="0.90" fill="#ec7a32"/>
<rect x="77.90" y="265.70" width="19.72" height="0.80" fill="#f7b27a"/>
<rect x="97.62" y="265.80" width="19.72" height="1.00" fill="#f0a064"/>
<rect x="97.62" y="266.80" width="19.72" height="1.40" fill="#fbe4d2"/>
<rect x="97.62" y="268.20" width="19.72" height="16.20" fill="#d9b0a0"/>
<rect x="97.62" y="268.20" width="19.72" height="14.40" fill="#86321f"/>
<rect x="97.62" y="268.20" width="19.72" height="9.80" fill="#7c281c"/>
<rect x="117.33" y="266.90" width="78.87" height="0.80" fill="#f3dccb"/>
<rect x="156.77" y="266.70" width="19.72" height="1.10" fill="#ecd3c3"/>
<rect x="117.33" y="282.40" width="19.72" height="1.00" fill="#e3c0b3"/>
<rect x="117.33" y="283.40" width="19.72" height="2.00" fill="#b97c6e"/>
<rect x="137.05" y="285.00" width="19.72" height="1.50" fill="#b98579"/>
<rect x="156.77" y="282.60" width="19.72" height="0.80" fill="#eacbbf"/>
<rect x="156.77" y="283.40" width="19.72" height="1.60" fill="#e0c2b6"/>
<rect x="176.48" y="281.00" width="19.72" height="0.80" fill="#f2dccf"/>
<rect x="176.48" y="284.30" width="19.72" height="2.20" fill="#e2c8bf"/>
<line x1="76.40" y1="180.80" x2="77.90" y2="180.80" stroke="#222" stroke-width="0.75"/>
<text stroke="#222222" stroke-width="0.1" x="70.20" y="182.75" font-size="5.6" text-anchor="end" fill="#222222">0</text>
<line x1="76.40" y1="196.90" x2="77.90" y2="196.90" stroke="#222" stroke-width="0.75"/>
<text stroke="#222222" stroke-width="0.1" x="70.20" y="198.85" font-size="5.6" text-anchor="end" fill="#222222">280</text>
<line x1="76.40" y1="213.50" x2="77.90" y2="213.50" stroke="#222" stroke-width="0.75"/>
<text stroke="#222222" stroke-width="0.1" x="70.20" y="215.45" font-size="5.6" text-anchor="end" fill="#222222">560</text>
<line x1="76.40" y1="230.20" x2="77.90" y2="230.20" stroke="#222" stroke-width="0.75"/>
<text stroke="#222222" stroke-width="0.1" x="70.20" y="232.15" font-size="5.6" text-anchor="end" fill="#222222">840</text>
<line x1="76.40" y1="246.90" x2="77.90" y2="246.90" stroke="#222" stroke-width="0.75"/>
<text stroke="#222222" stroke-width="0.1" x="70.20" y="248.85" font-size="5.6" text-anchor="end" fill="#222222">1120</text>
<line x1="76.40" y1="263.50" x2="77.90" y2="263.50" stroke="#222" stroke-width="0.75"/>
<text stroke="#222222" stroke-width="0.1" x="70.20" y="265.45" font-size="5.6" text-anchor="end" fill="#222222">1400</text>
<line x1="76.40" y1="279.20" x2="77.90" y2="279.20" stroke="#222" stroke-width="0.75"/>
<text stroke="#222222" stroke-width="0.1" x="70.20" y="281.15" font-size="5.6" text-anchor="end" fill="#222222">1680</text>
<line x1="87.76" y1="286.50" x2="87.76" y2="288.10" stroke="#333" stroke-width="0.55"/>
<text stroke="#222222" stroke-width="0.1" x="86.96" y="294.60" font-size="5.6" text-anchor="middle" fill="#222222">0</text>
<line x1="107.47" y1="286.50" x2="107.47" y2="288.10" stroke="#333" stroke-width="0.55"/>
<text stroke="#222222" stroke-width="0.1" x="106.67" y="294.60" font-size="5.6" text-anchor="middle" fill="#222222">1</text>
<line x1="127.19" y1="286.50" x2="127.19" y2="288.10" stroke="#333" stroke-width="0.55"/>
<text stroke="#222222" stroke-width="0.1" x="126.39" y="294.60" font-size="5.6" text-anchor="middle" fill="#222222">2</text>
<line x1="146.91" y1="286.50" x2="146.91" y2="288.10" stroke="#333" stroke-width="0.55"/>
<text stroke="#222222" stroke-width="0.1" x="146.11" y="294.60" font-size="5.6" text-anchor="middle" fill="#222222">3</text>
<line x1="166.62" y1="286.50" x2="166.62" y2="288.10" stroke="#333" stroke-width="0.55"/>
<text stroke="#222222" stroke-width="0.1" x="165.82" y="294.60" font-size="5.6" text-anchor="middle" fill="#222222">4</text>
<line x1="186.34" y1="286.50" x2="186.34" y2="288.10" stroke="#333" stroke-width="0.55"/>
<text stroke="#222222" stroke-width="0.1" x="185.54" y="294.60" font-size="5.6" text-anchor="middle" fill="#222222">5</text>
<text stroke="#222" stroke-width="0.1" x="137.70" y="300.00" font-size="5.6" text-anchor="middle" fill="#222">Clone</text>
<text stroke="#222" stroke-width="0.1" x="0" y="0" font-size="5.6" text-anchor="middle" fill="#222" transform="translate(53.6,230.7) rotate(-90)">Cell counts</text>
<text stroke="#222" stroke-width="0.1" x="137.90" y="176.00" font-size="5.6" text-anchor="middle" fill="#222">Assignment probability</text>
<defs><linearGradient id="gor" x1="0" y1="1" x2="0" y2="0">
<stop offset="0" stop-color="#fff5eb"/><stop offset="0.125" stop-color="#fee6ce"/><stop offset="0.25" stop-color="#fdd0a2"/>
<stop offset="0.375" stop-color="#fdae6b"/><stop offset="0.5" stop-color="#fd8d3c"/><stop offset="0.625" stop-color="#f16913"/>
<stop offset="0.75" stop-color="#d94801"/><stop offset="0.875" stop-color="#a63603"/><stop offset="1" stop-color="#7f2704"/>
</linearGradient></defs>
<rect x="203.20" y="179.70" width="5.30" height="106.90" fill="url(#gor)"/>
<line x1="208.50" y1="286.50" x2="210.20" y2="286.50" stroke="#333" stroke-width="0.55"/>
<text stroke="#222222" stroke-width="0.1" x="210.60" y="288.45" font-size="5.6" fill="#222222">0.0</text>
<line x1="208.50" y1="265.12" x2="210.20" y2="265.12" stroke="#333" stroke-width="0.55"/>
<text stroke="#222222" stroke-width="0.1" x="210.60" y="267.07" font-size="5.6" fill="#222222">0.2</text>
<line x1="208.50" y1="243.74" x2="210.20" y2="243.74" stroke="#333" stroke-width="0.55"/>
<text stroke="#222222" stroke-width="0.1" x="210.60" y="245.69" font-size="5.6" fill="#222222">0.4</text>
<line x1="208.50" y1="222.36" x2="210.20" y2="222.36" stroke="#333" stroke-width="0.55"/>
<text stroke="#222222" stroke-width="0.1" x="210.60" y="224.31" font-size="5.6" fill="#222222">0.6</text>
<line x1="208.50" y1="200.98" x2="210.20" y2="200.98" stroke="#333" stroke-width="0.55"/>
<text stroke="#222222" stroke-width="0.1" x="210.60" y="202.93" font-size="5.6" fill="#222222">0.8</text>
<line x1="208.50" y1="179.60" x2="210.20" y2="179.60" stroke="#333" stroke-width="0.55"/>
<text stroke="#222222" stroke-width="0.1" x="210.60" y="181.55" font-size="5.6" fill="#222222">1.0</text>
<rect x="363.30" y="177.10" width="80.40" height="107.40" fill="#e9efef"/>
<rect x="390.10" y="176.95" width="13.45" height="6.62" fill="#5a9a99"/>
<rect x="376.70" y="183.27" width="13.45" height="6.62" fill="#569897"/>
<rect x="390.10" y="183.27" width="13.45" height="6.62" fill="#e2ebeb"/>
<rect x="416.90" y="183.27" width="13.45" height="6.62" fill="#dce7e7"/>
<rect x="430.30" y="183.27" width="13.45" height="6.62" fill="#e1eaea"/>
<rect x="430.30" y="189.59" width="13.45" height="6.62" fill="#78acab"/>
<rect x="403.50" y="195.90" width="13.45" height="6.62" fill="#64a09f"/>
<rect x="416.90" y="202.22" width="13.45" height="6.62" fill="#c8dbdb"/>
<rect x="416.90" y="208.54" width="13.45" height="6.62" fill="#c8dbdb"/>
<rect x="430.30" y="214.86" width="13.45" height="6.62" fill="#d0e0e0"/>
<rect x="416.90" y="221.17" width="13.45" height="6.62" fill="#9ec2c2"/>
<rect x="430.30" y="227.49" width="13.45" height="6.62" fill="#d8e5e5"/>
<rect x="430.30" y="233.81" width="13.45" height="6.62" fill="#d8e5e5"/>
<rect x="376.70" y="240.13" width="13.45" height="6.62" fill="#e6eded"/>
<rect x="403.50" y="246.44" width="13.45" height="6.62" fill="#d0e0e0"/>
<rect x="376.70" y="252.76" width="13.45" height="6.62" fill="#e6eeee"/>
<rect x="416.90" y="259.08" width="13.45" height="6.62" fill="#dde8e8"/>
<rect x="403.50" y="265.40" width="13.45" height="6.62" fill="#c9dcdc"/>
<rect x="403.50" y="271.71" width="13.45" height="6.62" fill="#c9dcdc"/>
<rect x="403.50" y="278.03" width="13.45" height="6.62" fill="#c9dcdc"/>
<line x1="361.60" y1="180.26" x2="363.30" y2="180.26" stroke="#333" stroke-width="0.55"/>
<text stroke="#222222" stroke-width="0.1" x="360.40" y="182.21" font-size="5.6" text-anchor="end" fill="#222222">2226T&gt;C</text>
<line x1="361.60" y1="186.58" x2="363.30" y2="186.58" stroke="#333" stroke-width="0.55"/>
<text stroke="#222222" stroke-width="0.1" x="360.40" y="188.53" font-size="5.6" text-anchor="end" fill="#222222">785C&gt;T</text>
<line x1="361.60" y1="192.89" x2="363.30" y2="192.89" stroke="#333" stroke-width="0.55"/>
<text stroke="#222222" stroke-width="0.1" x="360.40" y="194.84" font-size="5.6" text-anchor="end" fill="#222222">7395T&gt;C</text>
<line x1="361.60" y1="199.21" x2="363.30" y2="199.21" stroke="#333" stroke-width="0.55"/>
<text stroke="#222222" stroke-width="0.1" x="360.40" y="201.16" font-size="5.6" text-anchor="end" fill="#222222">7368T&gt;C</text>
<line x1="361.60" y1="205.53" x2="363.30" y2="205.53" stroke="#333" stroke-width="0.55"/>
<text stroke="#222222" stroke-width="0.1" x="360.40" y="207.48" font-size="5.6" text-anchor="end" fill="#222222">9891T&gt;C</text>
<line x1="361.60" y1="211.85" x2="363.30" y2="211.85" stroke="#333" stroke-width="0.55"/>
<text stroke="#222222" stroke-width="0.1" x="360.40" y="213.80" font-size="5.6" text-anchor="end" fill="#222222">3047G&gt;A</text>
<line x1="361.60" y1="218.16" x2="363.30" y2="218.16" stroke="#333" stroke-width="0.55"/>
<text stroke="#222222" stroke-width="0.1" x="360.40" y="220.11" font-size="5.6" text-anchor="end" fill="#222222">15621T&gt;C</text>
<line x1="361.60" y1="224.48" x2="363.30" y2="224.48" stroke="#333" stroke-width="0.55"/>
<text stroke="#222222" stroke-width="0.1" x="360.40" y="226.43" font-size="5.6" text-anchor="end" fill="#222222">4124T&gt;C</text>
<line x1="361.60" y1="230.80" x2="363.30" y2="230.80" stroke="#333" stroke-width="0.55"/>
<text stroke="#222222" stroke-width="0.1" x="360.40" y="232.75" font-size="5.6" text-anchor="end" fill="#222222">10231T&gt;C</text>
<line x1="361.60" y1="237.12" x2="363.30" y2="237.12" stroke="#333" stroke-width="0.55"/>
<text stroke="#222222" stroke-width="0.1" x="360.40" y="239.07" font-size="5.6" text-anchor="end" fill="#222222">2343G&gt;A</text>
<line x1="361.60" y1="243.44" x2="363.30" y2="243.44" stroke="#333" stroke-width="0.55"/>
<text stroke="#222222" stroke-width="0.1" x="360.40" y="245.39" font-size="5.6" text-anchor="end" fill="#222222">15708G&gt;A</text>
<line x1="361.60" y1="249.75" x2="363.30" y2="249.75" stroke="#333" stroke-width="0.55"/>
<text stroke="#222222" stroke-width="0.1" x="360.40" y="251.70" font-size="5.6" text-anchor="end" fill="#222222">3040G&gt;A</text>
<line x1="361.60" y1="256.07" x2="363.30" y2="256.07" stroke="#333" stroke-width="0.55"/>
<text stroke="#222222" stroke-width="0.1" x="360.40" y="258.02" font-size="5.6" text-anchor="end" fill="#222222">10197G&gt;A</text>
<line x1="361.60" y1="262.39" x2="363.30" y2="262.39" stroke="#333" stroke-width="0.55"/>
<text stroke="#222222" stroke-width="0.1" x="360.40" y="264.34" font-size="5.6" text-anchor="end" fill="#222222">7293G&gt;A</text>
<line x1="361.60" y1="268.71" x2="363.30" y2="268.71" stroke="#333" stroke-width="0.55"/>
<text stroke="#222222" stroke-width="0.1" x="360.40" y="270.66" font-size="5.6" text-anchor="end" fill="#222222">7378T&gt;G</text>
<line x1="361.60" y1="275.02" x2="363.30" y2="275.02" stroke="#333" stroke-width="0.55"/>
<text stroke="#222222" stroke-width="0.1" x="360.40" y="276.97" font-size="5.6" text-anchor="end" fill="#222222">7381A&gt;G</text>
<line x1="361.60" y1="281.34" x2="363.30" y2="281.34" stroke="#333" stroke-width="0.55"/>
<text stroke="#222222" stroke-width="0.1" x="360.40" y="283.29" font-size="5.6" text-anchor="end" fill="#222222">7383T&gt;G</text>
<line x1="370.00" y1="284.50" x2="370.00" y2="286.10" stroke="#333" stroke-width="0.55"/>
<text stroke="#222222" stroke-width="0.1" x="368.80" y="291.40" font-size="5.6" text-anchor="middle" fill="#222222">0</text>
<line x1="383.40" y1="284.50" x2="383.40" y2="286.10" stroke="#333" stroke-width="0.55"/>
<text stroke="#222222" stroke-width="0.1" x="382.20" y="291.40" font-size="5.6" text-anchor="middle" fill="#222222">1</text>
<line x1="396.80" y1="284.50" x2="396.80" y2="286.10" stroke="#333" stroke-width="0.55"/>
<text stroke="#222222" stroke-width="0.1" x="395.60" y="291.40" font-size="5.6" text-anchor="middle" fill="#222222">2</text>
<line x1="410.20" y1="284.50" x2="410.20" y2="286.10" stroke="#333" stroke-width="0.55"/>
<text stroke="#222222" stroke-width="0.1" x="409.00" y="291.40" font-size="5.6" text-anchor="middle" fill="#222222">3</text>
<line x1="423.60" y1="284.50" x2="423.60" y2="286.10" stroke="#333" stroke-width="0.55"/>
<text stroke="#222222" stroke-width="0.1" x="422.40" y="291.40" font-size="5.6" text-anchor="middle" fill="#222222">4</text>
<line x1="437.00" y1="284.50" x2="437.00" y2="286.10" stroke="#333" stroke-width="0.55"/>
<text stroke="#222222" stroke-width="0.1" x="435.80" y="291.40" font-size="5.6" text-anchor="middle" fill="#222222">5</text>
<text stroke="#222" stroke-width="0.1" x="401.50" y="298.30" font-size="5.6" text-anchor="middle" fill="#222">Clone</text>
<text stroke="#222" stroke-width="0.1" x="407.10" y="174.00" font-size="5.6" text-anchor="middle" fill="#222">Mean allelic ratio</text>
<text stroke="#222" stroke-width="0.1" x="0" y="0" font-size="5.6" text-anchor="middle" fill="#222" transform="translate(329.2,237.0) rotate(-90)">Clone mtSNV variants</text>
<defs><linearGradient id="gte" x1="0" y1="1" x2="0" y2="0">
<stop offset="0" stop-color="#e9efef"/><stop offset="1" stop-color="#4e9392"/></linearGradient></defs>
<rect x="450.00" y="178.80" width="5.50" height="107.50" fill="url(#gte)"/>
<line x1="455.50" y1="193.75" x2="457.20" y2="193.75" stroke="#333" stroke-width="0.55"/>
<text stroke="#222222" stroke-width="0.1" x="457.60" y="195.70" font-size="5.6" fill="#222222">0.8</text>
<line x1="455.50" y1="217.50" x2="457.20" y2="217.50" stroke="#333" stroke-width="0.55"/>
<text stroke="#222222" stroke-width="0.1" x="457.60" y="219.45" font-size="5.6" fill="#222222">0.6</text>
<line x1="455.50" y1="240.50" x2="457.20" y2="240.50" stroke="#333" stroke-width="0.55"/>
<text stroke="#222222" stroke-width="0.1" x="457.60" y="242.45" font-size="5.6" fill="#222222">0.4</text>
<line x1="455.50" y1="263.50" x2="457.20" y2="263.50" stroke="#333" stroke-width="0.55"/>
<text stroke="#222222" stroke-width="0.1" x="457.60" y="265.45" font-size="5.6" fill="#222222">0.2</text>
<rect x="90.40" y="333.80" width="77.30" height="3.50" fill="#c98bc4"/>
<rect x="167.70" y="333.80" width="13.80" height="3.50" fill="#e48d7c"/>
<rect x="181.50" y="333.80" width="2.80" height="3.50" fill="#66bb8a"/>
<rect x="90.40" y="337.60" width="93.90" height="96.20" fill="#f3f6f0"/>
<rect x="167.70" y="337.60" width="13.80" height="5.66" fill="#1e6535"/>
<rect x="181.90" y="343.26" width="1.50" height="5.66" fill="#1e6535"/>
<line x1="183.00" y1="348.92" x2="183.00" y2="360.24" stroke="#6f8f78" stroke-width="0.7"/>
<line x1="183.00" y1="360.24" x2="183.00" y2="432.80" stroke="#c9d3c9" stroke-width="0.6"/>
<line x1="170.00" y1="364.00" x2="170.00" y2="375.00" stroke="#e4e8e2" stroke-width="0.6"/>
<line x1="174.80" y1="364.00" x2="174.80" y2="375.00" stroke="#e4e8e2" stroke-width="0.6"/>
<line x1="85.30" y1="341.40" x2="90.30" y2="341.40" stroke="#6b6b6b" stroke-width="0.5"/>
<line x1="85.30" y1="341.40" x2="85.30" y2="352.00" stroke="#6b6b6b" stroke-width="0.5"/>
<line x1="85.30" y1="352.00" x2="88.60" y2="352.00" stroke="#6b6b6b" stroke-width="0.5"/>
<line x1="88.60" y1="346.20" x2="90.30" y2="346.20" stroke="#6b6b6b" stroke-width="0.5"/>
<line x1="88.60" y1="346.20" x2="88.60" y2="432.00" stroke="#6b6b6b" stroke-width="0.6"/>
<text stroke="#222" stroke-width="0.1" x="186.30" y="342.55" font-size="5.6" fill="#222">785C&gt;T</text>
<text stroke="#222" stroke-width="0.1" x="186.30" y="348.27" font-size="5.6" fill="#222">2226T&gt;C</text>
<text stroke="#222" stroke-width="0.1" x="186.30" y="353.99" font-size="5.6" fill="#222">7368T&gt;C</text>
<text stroke="#222" stroke-width="0.1" x="186.30" y="359.71" font-size="5.6" fill="#222">4124T&gt;C</text>
<text stroke="#222" stroke-width="0.1" x="186.30" y="365.43" font-size="5.6" fill="#222">7395T&gt;C</text>
<text stroke="#222" stroke-width="0.1" x="186.30" y="371.15" font-size="5.6" fill="#222">10197G&gt;A</text>
<text stroke="#222" stroke-width="0.1" x="186.30" y="376.87" font-size="5.6" fill="#222">9891T&gt;C</text>
<text stroke="#222" stroke-width="0.1" x="186.30" y="382.59" font-size="5.6" fill="#222">3047G&gt;A</text>
<text stroke="#222" stroke-width="0.1" x="186.30" y="388.31" font-size="5.6" fill="#222">10231T&gt;C</text>
<text stroke="#222" stroke-width="0.1" x="186.30" y="394.03" font-size="5.6" fill="#222">7293G&gt;A</text>
<text stroke="#222" stroke-width="0.1" x="186.30" y="399.75" font-size="5.6" fill="#222">2343G&gt;A</text>
<text stroke="#222" stroke-width="0.1" x="186.30" y="405.47" font-size="5.6" fill="#222">7378T&gt;G</text>
<text stroke="#222" stroke-width="0.1" x="186.30" y="411.19" font-size="5.6" fill="#222">7381A&gt;G</text>
<text stroke="#222" stroke-width="0.1" x="186.30" y="416.91" font-size="5.6" fill="#222">7383T&gt;G</text>
<text stroke="#222" stroke-width="0.1" x="186.30" y="422.63" font-size="5.6" fill="#222">15621T&gt;C</text>
<text stroke="#222" stroke-width="0.1" x="186.30" y="428.35" font-size="5.6" fill="#222">15708G&gt;A</text>
<text stroke="#222" stroke-width="0.1" x="186.30" y="434.07" font-size="5.6" fill="#222">3040G&gt;A</text>
<text stroke="#222" stroke-width="0.1" x="219.00" y="341.60" font-size="5.6" fill="#222">Clone id</text>
<rect x="219.00" y="342.40" width="4.70" height="5.65" fill="#c98bc4"/>
<text stroke="#222" stroke-width="0.1" x="225.80" y="347.15" font-size="5.6" fill="#222">Clone 0</text>
<rect x="219.00" y="348.00" width="4.70" height="5.65" fill="#e48d7c"/>
<text stroke="#222" stroke-width="0.1" x="225.80" y="352.75" font-size="5.6" fill="#222">Clone 1</text>
<rect x="219.00" y="353.60" width="4.70" height="5.65" fill="#82b1dc"/>
<text stroke="#222" stroke-width="0.1" x="225.80" y="358.35" font-size="5.6" fill="#222">Clone 2</text>
<rect x="219.00" y="359.20" width="4.70" height="5.65" fill="#5dbb78"/>
<text stroke="#222" stroke-width="0.1" x="225.80" y="363.95" font-size="5.6" fill="#222">Clone 3</text>
<rect x="219.00" y="364.80" width="4.70" height="5.65" fill="#5bbfc4"/>
<text stroke="#222" stroke-width="0.1" x="225.80" y="369.55" font-size="5.6" fill="#222">Clone 4</text>
<rect x="219.00" y="370.40" width="4.70" height="5.65" fill="#d6b23c"/>
<text stroke="#222" stroke-width="0.1" x="225.80" y="375.15" font-size="5.6" fill="#222">Clone 5</text>
<defs><linearGradient id="ggr" x1="0" y1="0" x2="1" y2="0">
<stop offset="0" stop-color="#f7fcf5"/><stop offset="0.25" stop-color="#d5efcf"/><stop offset="0.5" stop-color="#9ed798"/>
<stop offset="0.75" stop-color="#4bab66"/><stop offset="1" stop-color="#1d6b3a"/></linearGradient></defs>
<rect x="94.30" y="437.30" width="90.70" height="4.20" fill="url(#ggr)"/>
<text stroke="#222222" stroke-width="0.1" x="93.60" y="448.00" font-size="5.6" text-anchor="middle" fill="#222222">0</text>
<text stroke="#222222" stroke-width="0.1" x="111.58" y="448.00" font-size="5.6" text-anchor="middle" fill="#222222">0.2</text>
<text stroke="#222222" stroke-width="0.1" x="129.56" y="448.00" font-size="5.6" text-anchor="middle" fill="#222222">0.4</text>
<text stroke="#222222" stroke-width="0.1" x="147.54" y="448.00" font-size="5.6" text-anchor="middle" fill="#222222">0.6</text>
<text stroke="#222222" stroke-width="0.1" x="165.52" y="448.00" font-size="5.6" text-anchor="middle" fill="#222222">0.8</text>
<text stroke="#222222" stroke-width="0.1" x="183.50" y="448.00" font-size="5.6" text-anchor="middle" fill="#222222">1.0</text>
<line x1="314.60" y1="327.50" x2="314.60" y2="449.20" stroke="#8a8a8a" stroke-width="1.0"/>
<text stroke="#222222" stroke-width="0.1" x="312.00" y="344.60" font-size="5.6" text-anchor="end" fill="#222222">5</text>
<text stroke="#222222" stroke-width="0.1" x="312.00" y="393.05" font-size="5.6" text-anchor="end" fill="#222222">0</text>
<text stroke="#222222" stroke-width="0.1" x="312.00" y="441.50" font-size="5.6" text-anchor="end" fill="#222222">−5</text>
<text stroke="#222" stroke-width="0.1" x="0" y="0" font-size="5.4" text-anchor="middle" fill="#222" transform="translate(306.0,393.8) rotate(-90)">logFC</text>
<rect x="318.50" y="385.40" width="32.70" height="9.70" fill="#7fc6b4"/>
<text x="334.85" y="392.3" font-size="5.6" text-anchor="middle" fill="#eef2ee" stroke="none">1vs0</text>
<rect x="351.20" y="385.40" width="32.40" height="9.70" fill="#b7a1d6"/>
<text x="367.40" y="392.3" font-size="5.6" text-anchor="middle" fill="#eef2ee" stroke="none">2vs1</text>
<rect x="383.60" y="385.40" width="32.60" height="9.70" fill="#93c86b"/>
<text x="399.90" y="392.3" font-size="5.6" text-anchor="middle" fill="#eef2ee" stroke="none">3vs2</text>
<rect x="416.20" y="385.40" width="32.60" height="9.70" fill="#d9976b"/>
<text x="432.50" y="392.3" font-size="5.6" text-anchor="middle" fill="#eef2ee" stroke="none">4vs3</text>
<rect x="448.80" y="385.40" width="33.20" height="9.70" fill="#a354ae"/>
<text x="465.40" y="392.3" font-size="5.6" text-anchor="middle" fill="#eef2ee" stroke="none">5vs4</text>
<circle cx="327.00" cy="368.00" r="0.72" fill="#d01f28"/>
<circle cx="327.75" cy="371.25" r="0.72" fill="#d01f28"/>
<circle cx="326.75" cy="374.50" r="0.72" fill="#d01f28"/>
<circle cx="327.50" cy="377.50" r="0.72" fill="#d01f28"/>
<circle cx="327.25" cy="380.25" r="0.72" fill="#d01f28"/>
<circle cx="329.50" cy="380.00" r="0.72" fill="#d01f28"/>
<circle cx="330.25" cy="376.00" r="0.72" fill="#d01f28"/>
<circle cx="332.00" cy="380.00" r="0.72" fill="#d01f28"/>
<circle cx="334.00" cy="376.50" r="0.72" fill="#d01f28"/>
<circle cx="335.25" cy="378.50" r="0.72" fill="#d01f28"/>
<circle cx="336.50" cy="379.50" r="0.72" fill="#d01f28"/>
<circle cx="337.25" cy="377.50" r="0.72" fill="#d01f28"/>
<circle cx="337.00" cy="380.50" r="0.72" fill="#d01f28"/>
<circle cx="339.50" cy="377.25" r="0.72" fill="#d01f28"/>
<circle cx="340.50" cy="379.00" r="0.72" fill="#d01f28"/>
<circle cx="343.25" cy="379.50" r="0.72" fill="#d01f28"/>
<circle cx="335.25" cy="373.00" r="0.72" fill="#d01f28"/>
<circle cx="340.50" cy="369.00" r="0.72" fill="#d01f28"/>
<circle cx="344.25" cy="373.25" r="0.72" fill="#d01f28"/>
<circle cx="329.00" cy="378.50" r="0.72" fill="#d01f28"/>
<circle cx="331.25" cy="380.00" r="0.72" fill="#d01f28"/>
<circle cx="333.25" cy="380.00" r="0.72" fill="#d01f28"/>
<circle cx="338.30" cy="379.20" r="0.72" fill="#d01f28"/>
<circle cx="341.80" cy="380.20" r="0.72" fill="#d01f28"/>
<circle cx="328.40" cy="373.20" r="0.72" fill="#d01f28"/>
<circle cx="334.60" cy="380.60" r="0.72" fill="#d01f28"/>
<circle cx="336.00" cy="376.60" r="0.72" fill="#d01f28"/>
<circle cx="343.90" cy="342.70" r="0.55" fill="#d3222b"/>
<circle cx="338.60" cy="349.00" r="0.55" fill="#d3222b"/>
<circle cx="340.50" cy="355.20" r="0.55" fill="#d3222b"/>
<circle cx="341.50" cy="362.40" r="0.55" fill="#d3222b"/>
<circle cx="327.00" cy="368.20" r="0.55" fill="#d3222b"/>
<circle cx="340.50" cy="368.20" r="0.55" fill="#d3222b"/>
<circle cx="335.20" cy="370.60" r="0.55" fill="#d3222b"/>
<circle cx="356.80" cy="365.80" r="0.55" fill="#d3222b"/>
<circle cx="361.60" cy="374.80" r="0.55" fill="#d3222b"/>
<circle cx="370.80" cy="354.20" r="0.55" fill="#d3222b"/>
<text x="339.00" y="341.50" font-size="4.7" fill="#222">KLK3</text>
<text x="318.80" y="349.60" font-size="4.7" fill="#222">MSMB</text>
<text x="336.20" y="348.20" font-size="4.7" fill="#222">KLK2</text>
<text x="333.30" y="354.40" font-size="4.7" fill="#222">PLA2G2A</text>
<text x="318.50" y="357.30" font-size="4.7" fill="#222">ACPP</text>
<text x="364.00" y="352.50" font-size="4.7" fill="#222">CLDN4</text>
<text x="337.00" y="362.10" font-size="4.7" fill="#222">FCGBP</text>
<text x="320.80" y="367.30" font-size="4.7" fill="#222">CRYM</text>
<text x="337.00" y="367.30" font-size="4.7" fill="#222">PIGR</text>
<text x="358.20" y="367.50" font-size="4.7" fill="#222">EGR1</text>
<text x="335.60" y="372.70" font-size="4.7" fill="#222">PSCA</text>
<text x="362.60" y="376.50" font-size="4.7" fill="#222">TRBC2</text>
<text x="386.70" y="372.10" font-size="4.7" fill="#222">TRBC1</text>
<text x="395.40" y="379.00" font-size="4.7" fill="#222">TRAC</text>
<text x="426.20" y="345.70" font-size="4.7" fill="#222">XCL2</text>
<text x="410.80" y="353.00" font-size="4.7" fill="#222">RORA</text>
<text x="427.90" y="353.00" font-size="4.7" fill="#222">IL7R</text>
<text x="441.20" y="350.50" font-size="4.7" fill="#222">SPRY1</text>
<line x1="331.60" y1="348.00" x2="333.50" y2="348.00" stroke="#444" stroke-width="0.35"/>
<line x1="329.00" y1="355.60" x2="331.00" y2="355.60" stroke="#444" stroke-width="0.35"/>
<line x1="334.50" y1="371.00" x2="336.00" y2="369.50" stroke="#444" stroke-width="0.35"/>
<line x1="357.00" y1="365.80" x2="358.00" y2="365.80" stroke="#444" stroke-width="0.35"/>
<line x1="361.20" y1="374.80" x2="362.40" y2="374.80" stroke="#444" stroke-width="0.35"/>
<line x1="409.60" y1="351.30" x2="410.60" y2="351.30" stroke="#444" stroke-width="0.35"/>
<line x1="439.60" y1="348.80" x2="441.00" y2="348.80" stroke="#444" stroke-width="0.35"/>
<line x1="424.20" y1="351.30" x2="426.50" y2="350.50" stroke="#444" stroke-width="0.35"/>
<circle cx="392.60" cy="372.90" r="0.50" fill="#d3222b"/>
<circle cx="399.70" cy="375.50" r="0.50" fill="#d3222b"/>
<circle cx="430.80" cy="346.50" r="0.50" fill="#d3222b"/>
<circle cx="426.00" cy="352.00" r="0.50" fill="#d3222b"/>
<circle cx="423.80" cy="358.00" r="0.68" fill="#d3222b"/>
<circle cx="428.00" cy="362.00" r="0.68" fill="#d3222b"/>
<circle cx="430.00" cy="362.00" r="0.68" fill="#d3222b"/>
<circle cx="426.20" cy="365.40" r="0.68" fill="#d3222b"/>
<circle cx="437.70" cy="365.40" r="0.68" fill="#d3222b"/>
<circle cx="440.00" cy="364.80" r="0.68" fill="#d3222b"/>
<circle cx="442.00" cy="357.90" r="0.68" fill="#d3222b"/>
<circle cx="424.20" cy="370.40" r="0.68" fill="#d3222b"/>
<circle cx="430.60" cy="368.00" r="0.68" fill="#d3222b"/>
<circle cx="435.80" cy="369.00" r="0.68" fill="#d3222b"/>
<circle cx="327.90" cy="403.50" r="0.68" fill="#22388a"/>
<circle cx="338.50" cy="403.00" r="0.68" fill="#22388a"/>
<circle cx="327.90" cy="408.30" r="0.68" fill="#22388a"/>
<circle cx="344.40" cy="408.30" r="0.68" fill="#22388a"/>
<circle cx="372.70" cy="401.70" r="0.68" fill="#22388a"/>
<circle cx="361.40" cy="404.00" r="0.68" fill="#22388a"/>
<circle cx="368.00" cy="400.20" r="0.68" fill="#22388a"/>
<circle cx="368.80" cy="410.00" r="0.68" fill="#22388a"/>
<circle cx="373.00" cy="406.00" r="0.68" fill="#22388a"/>
<circle cx="341.00" cy="419.00" r="0.68" fill="#22388a"/>
<circle cx="364.50" cy="414.80" r="0.68" fill="#22388a"/>
<circle cx="370.80" cy="424.80" r="0.68" fill="#22388a"/>
<circle cx="371.60" cy="425.30" r="0.68" fill="#22388a"/>
<circle cx="435.40" cy="401.00" r="0.68" fill="#22388a"/>
<circle cx="439.20" cy="402.50" r="0.68" fill="#22388a"/>
<circle cx="436.20" cy="407.00" r="0.68" fill="#22388a"/>
<circle cx="441.20" cy="407.00" r="0.68" fill="#22388a"/>
<circle cx="425.20" cy="409.60" r="0.68" fill="#22388a"/>
<circle cx="431.00" cy="408.30" r="0.68" fill="#22388a"/>
<circle cx="432.00" cy="410.20" r="0.68" fill="#22388a"/>
<circle cx="432.90" cy="409.20" r="0.68" fill="#22388a"/>
<circle cx="430.00" cy="412.10" r="0.68" fill="#22388a"/>
<circle cx="441.90" cy="410.80" r="0.68" fill="#22388a"/>
<circle cx="426.20" cy="415.00" r="0.68" fill="#22388a"/>
<circle cx="423.30" cy="418.80" r="0.68" fill="#22388a"/>
<circle cx="426.70" cy="419.80" r="0.68" fill="#22388a"/>
<circle cx="431.00" cy="417.50" r="0.68" fill="#22388a"/>
<circle cx="434.40" cy="420.20" r="0.68" fill="#22388a"/>
<circle cx="431.50" cy="421.70" r="0.68" fill="#22388a"/>
<circle cx="428.00" cy="427.80" r="0.68" fill="#22388a"/>
<circle cx="430.00" cy="431.70" r="0.68" fill="#22388a"/>
<circle cx="428.80" cy="435.30" r="0.68" fill="#22388a"/>
<circle cx="440.00" cy="437.50" r="0.68" fill="#22388a"/>
<circle cx="427.50" cy="440.00" r="0.68" fill="#22388a"/>
<circle cx="435.50" cy="440.00" r="0.68" fill="#22388a"/>
<circle cx="467.60" cy="438.70" r="0.68" fill="#22388a"/>
<text x="362.20" y="399.00" font-size="4.7" fill="#222">TRG-AS1</text>
<text x="347.70" y="403.40" font-size="4.7" fill="#222">GALNT10</text>
<text x="375.00" y="407.70" font-size="4.7" fill="#222">CD27</text>
<text x="358.30" y="412.10" font-size="4.7" fill="#222">TRBC1</text>
<text x="355.80" y="417.90" font-size="4.7" fill="#222">RGPD2</text>
<text x="320.80" y="418.70" font-size="4.7" fill="#222">AC022126.1</text>
<text x="371.00" y="425.00" font-size="4.7" fill="#222">TRAV17</text>
<text x="361.00" y="429.40" font-size="4.7" fill="#222">TRAV16</text>
<text x="413.70" y="430.70" font-size="4.7" fill="#222">KRT19</text>
<text x="432.20" y="433.70" font-size="4.7" fill="#222">ELF3</text>
<text x="421.30" y="436.90" font-size="4.7" fill="#222">ID1</text>
<text x="443.80" y="439.20" font-size="4.7" fill="#222">KRT17</text>
<text x="420.40" y="444.00" font-size="4.7" fill="#222">IER3</text>
<text x="432.90" y="444.00" font-size="4.7" fill="#222">TACSTD2</text>
<text x="462.70" y="443.70" font-size="4.7" fill="#222">KRT13</text>
<text stroke="#222" stroke-width="0.1" x="462.00" y="339.20" font-size="5.6" fill="#222">Expression</text>
<circle cx="463.10" cy="344.20" r="0.55" fill="#22388a"/>
<text stroke="#222" stroke-width="0.1" x="466.60" y="345.40" font-size="5.6" fill="#222">Down-regulated</text>
<circle cx="463.10" cy="350.30" r="0.55" fill="#d3222b"/>
<text stroke="#222" stroke-width="0.1" x="466.60" y="351.50" font-size="5.6" fill="#222">Up-regulated</text>
<rect x="180.6" y="477.9" width="39.30" height="106.90" fill="#fff" stroke="#5a5a5a" stroke-width="0.7"/>
<line x1="191.30" y1="477.90" x2="191.30" y2="584.80" stroke="#e6e6e6" stroke-width="0.5"/>
<line x1="209.90" y1="477.90" x2="209.90" y2="584.80" stroke="#e6e6e6" stroke-width="0.5"/>
<line x1="180.60" y1="483.60" x2="219.90" y2="483.60" stroke="#e6e6e6" stroke-width="0.5"/>
<line x1="180.60" y1="493.26" x2="219.90" y2="493.26" stroke="#e6e6e6" stroke-width="0.5"/>
<line x1="180.60" y1="502.92" x2="219.90" y2="502.92" stroke="#e6e6e6" stroke-width="0.5"/>
<line x1="180.60" y1="512.58" x2="219.90" y2="512.58" stroke="#e6e6e6" stroke-width="0.5"/>
<line x1="180.60" y1="522.24" x2="219.90" y2="522.24" stroke="#e6e6e6" stroke-width="0.5"/>
<line x1="180.60" y1="531.90" x2="219.90" y2="531.90" stroke="#e6e6e6" stroke-width="0.5"/>
<line x1="180.60" y1="541.56" x2="219.90" y2="541.56" stroke="#e6e6e6" stroke-width="0.5"/>
<line x1="180.60" y1="551.22" x2="219.90" y2="551.22" stroke="#e6e6e6" stroke-width="0.5"/>
<line x1="180.60" y1="560.88" x2="219.90" y2="560.88" stroke="#e6e6e6" stroke-width="0.5"/>
<line x1="180.60" y1="570.54" x2="219.90" y2="570.54" stroke="#e6e6e6" stroke-width="0.5"/>
<line x1="180.60" y1="580.20" x2="219.90" y2="580.20" stroke="#e6e6e6" stroke-width="0.5"/>
<circle cx="209.90" cy="483.60" r="2.10" fill="#dc1c2c"/>
<circle cx="209.90" cy="493.26" r="2.10" fill="#dc1c2c"/>
<circle cx="191.30" cy="502.92" r="0.60" fill="#2b2d6e"/>
<circle cx="191.30" cy="512.58" r="0.60" fill="#9a1a30"/>
<circle cx="191.30" cy="522.24" r="2.00" fill="#dc1c2c"/>
<circle cx="191.30" cy="531.90" r="0.60" fill="#4a2a6a"/>
<circle cx="209.90" cy="541.56" r="2.00" fill="#dc1c2c"/>
<circle cx="191.30" cy="551.22" r="0.60" fill="#2b2d6e"/>
<circle cx="191.30" cy="560.88" r="0.60" fill="#7a1a40"/>
<circle cx="209.90" cy="570.54" r="1.70" fill="#dc1c2c"/>
<circle cx="209.90" cy="580.20" r="2.10" fill="#dc1c2c"/>
<line x1="179.20" y1="483.60" x2="180.60" y2="483.60" stroke="#333" stroke-width="0.55"/>
<text stroke="#262626" stroke-width="0.1" x="0" y="0" font-size="6.4" text-anchor="end" fill="#262626" transform="translate(179.0,483.60) scale(1,0.87)">GO:0071356: BP: cellular</text>
<text stroke="#262626" stroke-width="0.1" x="0" y="0" font-size="6.4" text-anchor="end" fill="#262626" transform="translate(179.0,487.30) scale(1,0.87)">response to tumor necrosis factor</text>
<line x1="179.20" y1="493.26" x2="180.60" y2="493.26" stroke="#333" stroke-width="0.55"/>
<text stroke="#262626" stroke-width="0.1" x="0" y="0" font-size="6.4" text-anchor="end" fill="#262626" transform="translate(179.0,495.16) scale(1,0.87)">GO:0050727: BP: regulation of inflammatory response</text>
<line x1="179.20" y1="502.92" x2="180.60" y2="502.92" stroke="#333" stroke-width="0.55"/>
<text stroke="#262626" stroke-width="0.1" x="0" y="0" font-size="6.4" text-anchor="end" fill="#262626" transform="translate(179.0,502.92) scale(1,0.87)">GO:0043028: MF: cysteine−type endopeptidase</text>
<text stroke="#262626" stroke-width="0.1" x="0" y="0" font-size="6.4" text-anchor="end" fill="#262626" transform="translate(179.0,506.62) scale(1,0.87)">regulator activity involved in apoptotic process</text>
<line x1="179.20" y1="512.58" x2="180.60" y2="512.58" stroke="#333" stroke-width="0.55"/>
<text stroke="#262626" stroke-width="0.1" x="0" y="0" font-size="6.4" text-anchor="end" fill="#262626" transform="translate(179.0,512.58) scale(1,0.87)">GO:0043027: MF: cysteine−type endopeptidase</text>
<text stroke="#262626" stroke-width="0.1" x="0" y="0" font-size="6.4" text-anchor="end" fill="#262626" transform="translate(179.0,516.28) scale(1,0.87)">inhibitor activity involved in apoptotic process</text>
<line x1="179.20" y1="522.24" x2="180.60" y2="522.24" stroke="#333" stroke-width="0.55"/>
<text stroke="#262626" stroke-width="0.1" x="0" y="0" font-size="6.4" text-anchor="end" fill="#262626" transform="translate(179.0,524.14) scale(1,0.87)">GO:0042101: CC: T cell receptor complex</text>
<line x1="179.20" y1="531.90" x2="180.60" y2="531.90" stroke="#333" stroke-width="0.55"/>
<text stroke="#262626" stroke-width="0.1" x="0" y="0" font-size="6.4" text-anchor="end" fill="#262626" transform="translate(179.0,533.80) scale(1,0.87)">GO:0035035: MF: histone acetyltransferase binding</text>
<line x1="179.20" y1="541.56" x2="180.60" y2="541.56" stroke="#333" stroke-width="0.55"/>
<text stroke="#262626" stroke-width="0.1" x="0" y="0" font-size="6.4" text-anchor="end" fill="#262626" transform="translate(179.0,543.46) scale(1,0.87)">GO:0034612: BP: response to tumor necrosis factor</text>
<line x1="179.20" y1="551.22" x2="180.60" y2="551.22" stroke="#333" stroke-width="0.55"/>
<text stroke="#262626" stroke-width="0.1" x="0" y="0" font-size="6.4" text-anchor="end" fill="#262626" transform="translate(179.0,553.12) scale(1,0.87)">GO:0016327: CC: apicolateral plasma membrane</text>
<line x1="179.20" y1="560.88" x2="180.60" y2="560.88" stroke="#333" stroke-width="0.55"/>
<text stroke="#262626" stroke-width="0.1" x="0" y="0" font-size="6.4" text-anchor="end" fill="#262626" transform="translate(179.0,560.88) scale(1,0.87)">GO:0004653: MF: polypeptide</text>
<text stroke="#262626" stroke-width="0.1" x="0" y="0" font-size="6.4" text-anchor="end" fill="#262626" transform="translate(179.0,564.58) scale(1,0.87)">N−acetylgalactosaminyltransferase activity</text>
<line x1="179.20" y1="570.54" x2="180.60" y2="570.54" stroke="#333" stroke-width="0.55"/>
<text stroke="#262626" stroke-width="0.1" x="0" y="0" font-size="6.4" text-anchor="end" fill="#262626" transform="translate(179.0,570.54) scale(1,0.87)">GO:0002820: BP: negative regulation of adaptive</text>
<text stroke="#262626" stroke-width="0.1" x="0" y="0" font-size="6.4" text-anchor="end" fill="#262626" transform="translate(179.0,574.24) scale(1,0.87)">immune response</text>
<line x1="179.20" y1="580.20" x2="180.60" y2="580.20" stroke="#333" stroke-width="0.55"/>
<text stroke="#262626" stroke-width="0.1" x="0" y="0" font-size="6.4" text-anchor="end" fill="#262626" transform="translate(179.0,580.20) scale(1,0.87)">GO:0002819: BP: regulation of adaptive immune</text>
<text stroke="#262626" stroke-width="0.1" x="0" y="0" font-size="6.4" text-anchor="end" fill="#262626" transform="translate(179.0,583.90) scale(1,0.87)">response</text>
<line x1="191.30" y1="584.80" x2="191.30" y2="586.30" stroke="#333" stroke-width="0.55"/>
<text stroke="#262626" stroke-width="0.1" x="191.30" y="591.70" font-size="6.4" text-anchor="middle" fill="#262626">2vs1</text>
<line x1="209.90" y1="584.80" x2="209.90" y2="586.30" stroke="#333" stroke-width="0.55"/>
<text stroke="#262626" stroke-width="0.1" x="209.90" y="591.70" font-size="6.4" text-anchor="middle" fill="#262626">4vs3</text>
<text stroke="#262626" stroke-width="0.1" x="201.30" y="597.80" font-size="6.4" text-anchor="middle" fill="#262626">Group</text>
<text stroke="#262626" stroke-width="0.1" x="0" y="0" font-size="5.0" text-anchor="middle" fill="#262626" transform="translate(20.6,520.3) rotate(-90)">GO term</text>
<text stroke="#262626" stroke-width="0.1" x="224.30" y="499.30" font-size="6.4" fill="#262626">Pvalue</text>
<defs><linearGradient id="gpv" x1="0" y1="0" x2="0" y2="1">
<stop offset="0" stop-color="#3a3f9a"/><stop offset="0.5" stop-color="#a02096"/><stop offset="1" stop-color="#e8183c"/></linearGradient></defs>
<rect x="226.30" y="500.70" width="5.40" height="23.30" fill="url(#gpv)"/>
<line x1="230.50" y1="503.70" x2="231.70" y2="503.70" stroke="#fff" stroke-width="0.4"/>
<text stroke="#262626" stroke-width="0.1" x="232.30" y="505.90" font-size="6.4" fill="#262626">0.009</text>
<line x1="230.50" y1="510.30" x2="231.70" y2="510.30" stroke="#fff" stroke-width="0.4"/>
<text stroke="#262626" stroke-width="0.1" x="232.30" y="512.50" font-size="6.4" fill="#262626">0.006</text>
<line x1="230.50" y1="516.70" x2="231.70" y2="516.70" stroke="#fff" stroke-width="0.4"/>
<text stroke="#262626" stroke-width="0.1" x="232.30" y="518.90" font-size="6.4" fill="#262626">0.003</text>
<text stroke="#262626" stroke-width="0.1" x="224.30" y="533.30" font-size="6.4" fill="#262626">Count</text>
<circle cx="229.00" cy="536.70" r="0.50" fill="#111"/>
<text stroke="#262626" stroke-width="0.1" x="233.60" y="538.60" font-size="5.6" fill="#262626">1</text>
<circle cx="229.00" cy="541.40" r="0.90" fill="#111"/>
<text stroke="#262626" stroke-width="0.1" x="233.60" y="543.30" font-size="5.6" fill="#262626">2</text>
<circle cx="229.00" cy="546.10" r="1.20" fill="#111"/>
<text stroke="#262626" stroke-width="0.1" x="233.60" y="548.00" font-size="5.6" fill="#262626">3</text>
<circle cx="229.00" cy="550.80" r="1.40" fill="#111"/>
<text stroke="#262626" stroke-width="0.1" x="233.60" y="552.70" font-size="5.6" fill="#262626">4</text>
<circle cx="229.00" cy="555.50" r="1.60" fill="#111"/>
<text stroke="#262626" stroke-width="0.1" x="233.60" y="557.40" font-size="5.6" fill="#262626">5</text>
<circle cx="229.00" cy="560.20" r="1.80" fill="#111"/>
<text stroke="#262626" stroke-width="0.1" x="233.60" y="562.10" font-size="5.6" fill="#262626">6</text>
<circle cx="229.00" cy="564.90" r="2.05" fill="#111"/>
<text stroke="#262626" stroke-width="0.1" x="233.60" y="566.80" font-size="5.6" fill="#262626">7</text>
<rect x="415.2" y="478.7" width="19.50" height="106.10" fill="#fff" stroke="#333" stroke-width="0.7"/>
<line x1="425.10" y1="478.70" x2="425.10" y2="584.80" stroke="#e6e6e6" stroke-width="0.5"/>
<line x1="415.20" y1="507.50" x2="434.70" y2="507.50" stroke="#dde3ee" stroke-width="0.5"/>
<line x1="413.80" y1="507.50" x2="415.20" y2="507.50" stroke="#333" stroke-width="0.5"/>
<line x1="415.20" y1="556.20" x2="434.70" y2="556.20" stroke="#dde3ee" stroke-width="0.5"/>
<line x1="413.80" y1="556.20" x2="415.20" y2="556.20" stroke="#333" stroke-width="0.5"/>
<circle cx="425.10" cy="507.50" r="1.75" fill="#dc1c2c"/>
<circle cx="425.10" cy="556.20" r="1.75" fill="#2c3a8c"/>
<text stroke="#262626" stroke-width="0.1" x="413.40" y="508.90" font-size="5.6" text-anchor="end" fill="#262626">hsa05150: Staphylococcus aureus infection</text>
<text stroke="#262626" stroke-width="0.1" x="413.40" y="558.60" font-size="5.6" text-anchor="end" fill="#262626">hsa04915: Estrogen signaling pathway</text>
<line x1="425.10" y1="584.80" x2="425.10" y2="586.30" stroke="#333" stroke-width="0.5"/>
<text stroke="#262626" stroke-width="0.1" x="425.60" y="591.50" font-size="5.6" text-anchor="middle" fill="#262626">5vs4</text>
<text stroke="#262626" stroke-width="0.1" x="425.60" y="597.00" font-size="5.6" text-anchor="middle" fill="#262626">Group</text>
<text stroke="#262626" stroke-width="0.1" x="0" y="0" font-size="5.6" text-anchor="middle" fill="#262626" transform="translate(303.0,530.4) rotate(-90)">KEGG term</text>
<text stroke="#262626" stroke-width="0.1" x="439.00" y="482.00" font-size="5.6" fill="#262626">Pvalue</text>
<rect x="439.70" y="484.00" width="3.60" height="21.80" fill="url(#gpv)"/>
<text stroke="#262626" stroke-width="0.1" x="444.40" y="489.25" font-size="5.6" fill="#262626">0.015</text>
<text stroke="#262626" stroke-width="0.1" x="444.40" y="494.70" font-size="5.6" fill="#262626">0.014</text>
<text stroke="#262626" stroke-width="0.1" x="444.40" y="500.15" font-size="5.6" fill="#262626">0.013</text>
<text stroke="#262626" stroke-width="0.1" x="444.40" y="505.55" font-size="5.6" fill="#262626">0.012</text>
<text stroke="#262626" stroke-width="0.1" x="439.00" y="516.40" font-size="5.6" fill="#262626">Count</text>
<circle cx="441.20" cy="520.50" r="1.20" fill="#111"/>
<text stroke="#262626" stroke-width="0.1" x="444.60" y="522.50" font-size="5.6" fill="#262626">1</text>
</g>
</svg></body></html>
